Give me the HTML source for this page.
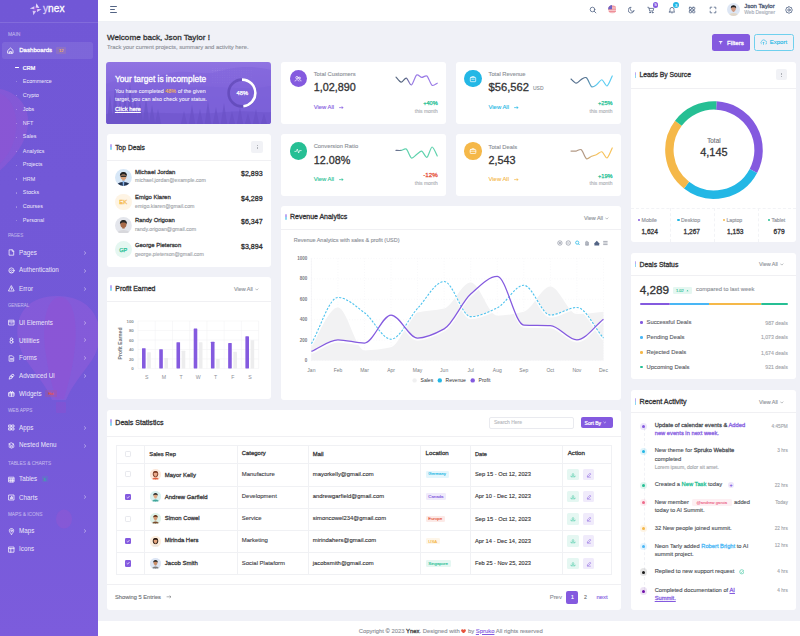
<!DOCTYPE html><html><head><meta charset="utf-8"><title>Ynex</title><style>
*{box-sizing:border-box;margin:0;padding:0}
html,body{width:800px;height:636px;overflow:hidden;background:#f0f1f7;font-family:"Liberation Sans",sans-serif;color:#333335}
body{position:relative}
.a{position:absolute}
.t{position:absolute;line-height:1;white-space:nowrap;-webkit-text-stroke:0.12px currentColor}
#sb{position:absolute;left:0;top:0;width:98px;height:636px;background:linear-gradient(180deg,#7157d6 0%,#7359d8 60%,#7c5cdc 100%);overflow:hidden}
.card{position:absolute;background:#fff;border-radius:3px}
b{font-weight:400;-webkit-text-stroke:0.26px currentColor}
</style></head><body>
<div id="sb">
<svg class="a" style="left:0;top:0" width="98" height="636" viewBox="0 0 98 636"><path d="M-10,88 C20,88 30,110 28,125 C26,145 12,160 -5,175 Z" fill="rgba(205,95,215,0.20)"/><path d="M-4,92 C12,95 18,115 16,130 C14,148 6,158 -4,168 Z" fill="rgba(190,70,200,0.10)"/><path d="M57,296 C100,296 108,335 92,360 C84,372 72,385 66,400 L52,400 C46,385 34,372 26,360 C10,335 14,296 57,296 Z" fill="rgba(200,100,225,0.20)"/><path d="M60,297 C76,298 78,330 74,355 C72,370 68,385 64,399 L56,399 C52,385 48,370 46,355 C42,330 44,298 60,297 Z" fill="rgba(175,65,200,0.16)"/><rect x="56" y="402" width="10" height="11" rx="1" fill="rgba(170,70,200,0.22)"/><ellipse cx="64" cy="519" rx="8" ry="9.5" fill="rgba(180,80,200,0.22)"/></svg>
<div class="a" style="left:0;top:21.6px;width:98px;height:0.5px;background:rgba(255,255,255,0.12)"></div>
</div>
<svg class="a" style="left:0;top:0" width="98" height="22" viewBox="0 0 98 22"><g><path d="M29.8,8.4 L34.4,6.3 L34.4,9.3 Z" fill="#dcd0f7"/><path d="M36.4,3.3 L39.4,7.9 L35.6,7.7 Z" fill="#e4dafa"/><path d="M41.6,9.3 L37,11.9 L37.1,8.9 Z" fill="#dcd0f7"/><path d="M33.4,15.2 L32.6,10.7 L36.2,11 Z" fill="#d6c8f5"/><circle cx="35.6" cy="9.3" r="2.2" fill="rgba(190,90,220,0.35)"/></g></svg>
<div class="t " style="left:43px;top:3.76px;font-size:10.2px;color:#fff;-webkit-text-stroke:0.3px currentColor;"><span style="color:#d9ccf6">y</span>nex</div>
<div class="t " style="left:7.9px;top:31.9px;font-size:5px;color:rgba(255,255,255,0.38);-webkit-text-stroke:0.22px currentColor;">MAIN</div>
<div class="t " style="left:7.9px;top:234.16px;font-size:4.54px;color:rgba(255,255,255,0.38);-webkit-text-stroke:0.2px currentColor;">PAGES</div>
<div class="t " style="left:7.9px;top:303.82px;font-size:4.44px;color:rgba(255,255,255,0.38);-webkit-text-stroke:0.2px currentColor;">GENERAL</div>
<div class="t " style="left:7.9px;top:409.05px;font-size:4.74px;color:rgba(255,255,255,0.38);-webkit-text-stroke:0.21px currentColor;">WEB APPS</div>
<div class="t " style="left:7.9px;top:461.52px;font-size:4.78px;color:rgba(255,255,255,0.38);-webkit-text-stroke:0.21px currentColor;">TABLES &amp; CHARTS</div>
<div class="t " style="left:7.9px;top:513.42px;font-size:4.79px;color:rgba(255,255,255,0.38);-webkit-text-stroke:0.21px currentColor;">MAPS &amp; ICONS</div>
<div class="a" style="left:2.4px;top:41.7px;width:90.4px;height:17.3px;background:rgba(255,255,255,0.09);border-radius:2.5px;"></div>
<svg class="a" style="left:7.4px;top:46.9px;" width="7" height="7" viewBox="0 0 7 7"><path d="M1,3.3 L3.5,1 L6,3.3 V6.2 H1 Z" fill="none" stroke="#fff" stroke-width="0.8" stroke-linejoin="round" stroke-linecap="round"/><path d="M2.6,6.2 V4.6 H4.4 V6.2" fill="none" stroke="#fff" stroke-width="0.8" stroke-linejoin="round" stroke-linecap="round"/></svg>
<div class="t " style="left:19.2px;top:46.77px;font-size:6.12px;color:#fff;-webkit-text-stroke:0.27px currentColor;">Dashboards</div>
<div class="a" style="left:56.3px;top:47px;width:9.7px;height:6.6px;background:rgba(245,184,73,0.13);border-radius:1px;"></div>
<div class="t " style="left:58.93px;top:48.66px;font-size:4px;color:#f5b849;">12</div>
<div class="t " style="left:22.8px;top:65.65px;font-size:5.45px;color:#fff;-webkit-text-stroke:0.24px currentColor;">CRM</div>
<div class="a" style="left:15px;top:67.25px;width:3.5px;height:0.7px;background:#fff;border-radius:0.3px;"></div>
<div class="t " style="left:22.8px;top:79.15px;font-size:5.45px;color:rgba(255,255,255,0.8);-webkit-text-stroke:0.05px currentColor;">Ecommerce</div>
<div class="a" style="left:15.8px;top:81.1px;width:1.4px;height:1.4px;background:rgba(255,255,255,0.35);border-radius:50%"></div>
<div class="t " style="left:22.8px;top:93.05px;font-size:5.45px;color:rgba(255,255,255,0.8);-webkit-text-stroke:0.05px currentColor;">Crypto</div>
<div class="a" style="left:15.8px;top:95px;width:1.4px;height:1.4px;background:rgba(255,255,255,0.35);border-radius:50%"></div>
<div class="t " style="left:22.8px;top:106.95px;font-size:5.45px;color:rgba(255,255,255,0.8);-webkit-text-stroke:0.05px currentColor;">Jobs</div>
<div class="a" style="left:15.8px;top:108.9px;width:1.4px;height:1.4px;background:rgba(255,255,255,0.35);border-radius:50%"></div>
<div class="t " style="left:22.8px;top:120.85px;font-size:5.45px;color:rgba(255,255,255,0.8);-webkit-text-stroke:0.05px currentColor;">NFT</div>
<div class="a" style="left:15.8px;top:122.8px;width:1.4px;height:1.4px;background:rgba(255,255,255,0.35);border-radius:50%"></div>
<div class="t " style="left:22.8px;top:134.15px;font-size:5.45px;color:rgba(255,255,255,0.8);-webkit-text-stroke:0.05px currentColor;">Sales</div>
<div class="a" style="left:15.8px;top:136.7px;width:1.4px;height:1.4px;background:rgba(255,255,255,0.35);border-radius:50%"></div>
<div class="t " style="left:22.8px;top:148.65px;font-size:5.45px;color:rgba(255,255,255,0.8);-webkit-text-stroke:0.05px currentColor;">Analytics</div>
<div class="a" style="left:15.8px;top:150.6px;width:1.4px;height:1.4px;background:rgba(255,255,255,0.35);border-radius:50%"></div>
<div class="t " style="left:22.8px;top:162.15px;font-size:5.45px;color:rgba(255,255,255,0.8);-webkit-text-stroke:0.05px currentColor;">Projects</div>
<div class="a" style="left:15.8px;top:164.5px;width:1.4px;height:1.4px;background:rgba(255,255,255,0.35);border-radius:50%"></div>
<div class="t " style="left:22.8px;top:177.25px;font-size:5.45px;color:rgba(255,255,255,0.8);-webkit-text-stroke:0.05px currentColor;">HRM</div>
<div class="a" style="left:15.8px;top:178.4px;width:1.4px;height:1.4px;background:rgba(255,255,255,0.35);border-radius:50%"></div>
<div class="t " style="left:22.8px;top:190.35px;font-size:5.45px;color:rgba(255,255,255,0.8);-webkit-text-stroke:0.05px currentColor;">Stocks</div>
<div class="a" style="left:15.8px;top:192.3px;width:1.4px;height:1.4px;background:rgba(255,255,255,0.35);border-radius:50%"></div>
<div class="t " style="left:22.8px;top:204.25px;font-size:5.45px;color:rgba(255,255,255,0.8);-webkit-text-stroke:0.05px currentColor;">Courses</div>
<div class="a" style="left:15.8px;top:206.2px;width:1.4px;height:1.4px;background:rgba(255,255,255,0.35);border-radius:50%"></div>
<div class="t " style="left:22.8px;top:218.15px;font-size:5.45px;color:rgba(255,255,255,0.8);-webkit-text-stroke:0.05px currentColor;">Personal</div>
<div class="a" style="left:15.8px;top:220.1px;width:1.4px;height:1.4px;background:rgba(255,255,255,0.35);border-radius:50%"></div>
<svg class="a" style="left:7.7px;top:249.2px;" width="7" height="7" viewBox="0 0 7 7"><path d="M1.5,0.8 H4.3 L5.7,2.2 V6.2 H1.5 Z" fill="none" stroke="rgba(255,255,255,0.85)" stroke-width="0.85" stroke-linejoin="round" stroke-linecap="round"/><path d="M4.2,0.8 V2.3 H5.7" fill="none" stroke="rgba(255,255,255,0.85)" stroke-width="0.85" stroke-linejoin="round" stroke-linecap="round"/></svg>
<div class="t " style="left:19.1px;top:249.68px;font-size:6.28px;color:rgba(255,255,255,0.84);-webkit-text-stroke:0.05px currentColor;">Pages</div>
<svg class="a" style="left:83.2px;top:250.7px;" width="4" height="4" viewBox="0 0 4 4"><path d="M1.4,0.7 L2.8,2 L1.4,3.3" fill="none" stroke="rgba(255,255,255,0.75)" stroke-width="0.6" stroke-linecap="round"/></svg>
<svg class="a" style="left:7.7px;top:267.1px;" width="7" height="7" viewBox="0 0 7 7"><circle cx="3.5" cy="3.5" r="2.6" fill="none" stroke="rgba(255,255,255,0.85)" stroke-width="0.85" stroke-linejoin="round" stroke-linecap="round"/><path d="M1.6,3.9 C2.4,2.5 4.6,2.5 5.4,3.9 M2.4,5.6 C2.7,4.4 4.3,4.4 4.6,5.6" fill="none" stroke="rgba(255,255,255,0.85)" stroke-width="0.85" stroke-linejoin="round" stroke-linecap="round"/></svg>
<div class="t " style="left:19.1px;top:267.18px;font-size:6.28px;color:rgba(255,255,255,0.84);-webkit-text-stroke:0.05px currentColor;">Authentication</div>
<svg class="a" style="left:83.2px;top:268.6px;" width="4" height="4" viewBox="0 0 4 4"><path d="M1.4,0.7 L2.8,2 L1.4,3.3" fill="none" stroke="rgba(255,255,255,0.75)" stroke-width="0.6" stroke-linecap="round"/></svg>
<svg class="a" style="left:7.7px;top:285px;" width="7" height="7" viewBox="0 0 7 7"><path d="M3.5,0.9 L6.2,6 H0.8 Z" fill="none" stroke="rgba(255,255,255,0.85)" stroke-width="0.85" stroke-linejoin="round" stroke-linecap="round"/><path d="M3.5,2.9 V4.3" fill="none" stroke="rgba(255,255,255,0.85)" stroke-width="0.85" stroke-linejoin="round" stroke-linecap="round"/></svg>
<div class="t " style="left:19.1px;top:285.68px;font-size:6.28px;color:rgba(255,255,255,0.84);-webkit-text-stroke:0.05px currentColor;">Error</div>
<svg class="a" style="left:83.2px;top:286.5px;" width="4" height="4" viewBox="0 0 4 4"><path d="M1.4,0.7 L2.8,2 L1.4,3.3" fill="none" stroke="rgba(255,255,255,0.75)" stroke-width="0.6" stroke-linecap="round"/></svg>
<svg class="a" style="left:7.7px;top:319px;" width="7" height="7" viewBox="0 0 7 7"><rect x="1" y="1.2" width="5" height="4.8" fill="none" stroke="rgba(255,255,255,0.85)" stroke-width="0.85" stroke-linejoin="round" stroke-linecap="round"/><path d="M1,2.8 H6 M2.8,4 H4.2" fill="none" stroke="rgba(255,255,255,0.85)" stroke-width="0.85" stroke-linejoin="round" stroke-linecap="round"/></svg>
<div class="t " style="left:19.1px;top:319.68px;font-size:6.28px;color:rgba(255,255,255,0.84);-webkit-text-stroke:0.05px currentColor;">Ui Elements</div>
<svg class="a" style="left:83.2px;top:320.5px;" width="4" height="4" viewBox="0 0 4 4"><path d="M1.4,0.7 L2.8,2 L1.4,3.3" fill="none" stroke="rgba(255,255,255,0.75)" stroke-width="0.6" stroke-linecap="round"/></svg>
<svg class="a" style="left:7.7px;top:336.8px;" width="7" height="7" viewBox="0 0 7 7"><circle cx="3.5" cy="2.2" r="1.3" fill="none" stroke="rgba(255,255,255,0.85)" stroke-width="0.85" stroke-linejoin="round" stroke-linecap="round"/><circle cx="3.5" cy="4.9" r="1.5" fill="none" stroke="rgba(255,255,255,0.85)" stroke-width="0.85" stroke-linejoin="round" stroke-linecap="round"/></svg>
<div class="t " style="left:19.1px;top:338.28px;font-size:6.28px;color:rgba(255,255,255,0.84);-webkit-text-stroke:0.05px currentColor;">Utilities</div>
<svg class="a" style="left:83.2px;top:338.3px;" width="4" height="4" viewBox="0 0 4 4"><path d="M1.4,0.7 L2.8,2 L1.4,3.3" fill="none" stroke="rgba(255,255,255,0.75)" stroke-width="0.6" stroke-linecap="round"/></svg>
<svg class="a" style="left:7.7px;top:354.6px;" width="7" height="7" viewBox="0 0 7 7"><path d="M1.5,0.8 H4.3 L5.7,2.2 V6.2 H1.5 Z" fill="none" stroke="rgba(255,255,255,0.85)" stroke-width="0.85" stroke-linejoin="round" stroke-linecap="round"/><path d="M2.5,3.6 H4.6 M2.5,4.8 H4.6" fill="none" stroke="rgba(255,255,255,0.85)" stroke-width="0.85" stroke-linejoin="round" stroke-linecap="round"/></svg>
<div class="t " style="left:19.1px;top:355.28px;font-size:6.28px;color:rgba(255,255,255,0.84);-webkit-text-stroke:0.05px currentColor;">Forms</div>
<svg class="a" style="left:83.2px;top:356.1px;" width="4" height="4" viewBox="0 0 4 4"><path d="M1.4,0.7 L2.8,2 L1.4,3.3" fill="none" stroke="rgba(255,255,255,0.75)" stroke-width="0.6" stroke-linecap="round"/></svg>
<svg class="a" style="left:7.7px;top:372.5px;" width="7" height="7" viewBox="0 0 7 7"><path d="M1.2,5.8 L2.2,3 L5,1 L6,2.2 L4,5 Z" fill="none" stroke="rgba(255,255,255,0.85)" stroke-width="0.85" stroke-linejoin="round" stroke-linecap="round"/><circle cx="3.6" cy="3.4" r="0.7" fill="none" stroke="rgba(255,255,255,0.85)" stroke-width="0.85" stroke-linejoin="round" stroke-linecap="round"/></svg>
<div class="t " style="left:19.1px;top:373.18px;font-size:6.28px;color:rgba(255,255,255,0.84);-webkit-text-stroke:0.05px currentColor;">Advanced Ui</div>
<svg class="a" style="left:83.2px;top:374px;" width="4" height="4" viewBox="0 0 4 4"><path d="M1.4,0.7 L2.8,2 L1.4,3.3" fill="none" stroke="rgba(255,255,255,0.75)" stroke-width="0.6" stroke-linecap="round"/></svg>
<svg class="a" style="left:7.7px;top:390.2px;" width="7" height="7" viewBox="0 0 7 7"><rect x="1" y="2.6" width="5" height="3.6" fill="none" stroke="rgba(255,255,255,0.85)" stroke-width="0.85" stroke-linejoin="round" stroke-linecap="round"/><path d="M1,3.9 H6 M3.5,2.6 V6.2 M2,2.6 C1.5,1.2 3,1 3.5,2.6 C4,1 5.5,1.2 5,2.6" fill="none" stroke="rgba(255,255,255,0.85)" stroke-width="0.85" stroke-linejoin="round" stroke-linecap="round"/></svg>
<div class="t " style="left:19.1px;top:390.68px;font-size:6.28px;color:rgba(255,255,255,0.84);-webkit-text-stroke:0.05px currentColor;">Widgets</div>
<svg class="a" style="left:7.7px;top:424.2px;" width="7" height="7" viewBox="0 0 7 7"><rect x="1" y="1" width="2" height="2" fill="none" stroke="rgba(255,255,255,0.85)" stroke-width="0.85" stroke-linejoin="round" stroke-linecap="round"/><rect x="4" y="1" width="2" height="2" fill="none" stroke="rgba(255,255,255,0.85)" stroke-width="0.85" stroke-linejoin="round" stroke-linecap="round"/><rect x="1" y="4" width="2" height="2" fill="none" stroke="rgba(255,255,255,0.85)" stroke-width="0.85" stroke-linejoin="round" stroke-linecap="round"/><rect x="4" y="4" width="2" height="2" fill="none" stroke="rgba(255,255,255,0.85)" stroke-width="0.85" stroke-linejoin="round" stroke-linecap="round"/></svg>
<div class="t " style="left:19.1px;top:424.68px;font-size:6.28px;color:rgba(255,255,255,0.84);-webkit-text-stroke:0.05px currentColor;">Apps</div>
<svg class="a" style="left:83.2px;top:425.7px;" width="4" height="4" viewBox="0 0 4 4"><path d="M1.4,0.7 L2.8,2 L1.4,3.3" fill="none" stroke="rgba(255,255,255,0.75)" stroke-width="0.6" stroke-linecap="round"/></svg>
<svg class="a" style="left:7.7px;top:442.1px;" width="7" height="7" viewBox="0 0 7 7"><path d="M3.5,0.9 L6,2.2 L3.5,3.5 L1,2.2 Z" fill="none" stroke="rgba(255,255,255,0.85)" stroke-width="0.85" stroke-linejoin="round" stroke-linecap="round"/><path d="M1,3.6 L3.5,4.9 L6,3.6 M1,4.9 L3.5,6.2 L6,4.9" fill="none" stroke="rgba(255,255,255,0.85)" stroke-width="0.85" stroke-linejoin="round" stroke-linecap="round"/></svg>
<div class="t " style="left:19.1px;top:442.18px;font-size:6.28px;color:rgba(255,255,255,0.84);-webkit-text-stroke:0.05px currentColor;">Nested Menu</div>
<svg class="a" style="left:83.2px;top:443.6px;" width="4" height="4" viewBox="0 0 4 4"><path d="M1.4,0.7 L2.8,2 L1.4,3.3" fill="none" stroke="rgba(255,255,255,0.75)" stroke-width="0.6" stroke-linecap="round"/></svg>
<svg class="a" style="left:7.7px;top:475.7px;" width="7" height="7" viewBox="0 0 7 7"><rect x="1" y="1.2" width="5" height="4.8" fill="none" stroke="rgba(255,255,255,0.85)" stroke-width="0.85" stroke-linejoin="round" stroke-linecap="round"/><path d="M1,2.8 H6 M1,4.4 H6 M2.8,2.8 V6 M4.4,2.8 V6" fill="none" stroke="rgba(255,255,255,0.85)" stroke-width="0.85" stroke-linejoin="round" stroke-linecap="round"/></svg>
<div class="t " style="left:19.1px;top:476.38px;font-size:6.28px;color:rgba(255,255,255,0.84);-webkit-text-stroke:0.05px currentColor;">Tables</div>
<svg class="a" style="left:7.7px;top:493.8px;" width="7" height="7" viewBox="0 0 7 7"><rect x="1" y="1" width="5" height="5" fill="none" stroke="rgba(255,255,255,0.85)" stroke-width="0.85" stroke-linejoin="round" stroke-linecap="round"/><path d="M2.5,4.8 V3.6 M3.5,4.8 V2.4 M4.5,4.8 V3" fill="none" stroke="rgba(255,255,255,0.85)" stroke-width="0.85" stroke-linejoin="round" stroke-linecap="round"/></svg>
<div class="t " style="left:19.1px;top:494.68px;font-size:6.28px;color:rgba(255,255,255,0.84);-webkit-text-stroke:0.05px currentColor;">Charts</div>
<svg class="a" style="left:83.2px;top:495.3px;" width="4" height="4" viewBox="0 0 4 4"><path d="M1.4,0.7 L2.8,2 L1.4,3.3" fill="none" stroke="rgba(255,255,255,0.75)" stroke-width="0.6" stroke-linecap="round"/></svg>
<svg class="a" style="left:7.7px;top:527.6px;" width="7" height="7" viewBox="0 0 7 7"><path d="M3.5,6.3 C2,4.6 1.3,3.6 1.3,2.7 A2.2,2.2 0 0 1 5.7,2.7 C5.7,3.6 5,4.6 3.5,6.3 Z" fill="none" stroke="rgba(255,255,255,0.85)" stroke-width="0.85" stroke-linejoin="round" stroke-linecap="round"/><circle cx="3.5" cy="2.8" r="0.8" fill="none" stroke="rgba(255,255,255,0.85)" stroke-width="0.85" stroke-linejoin="round" stroke-linecap="round"/></svg>
<div class="t " style="left:19.1px;top:528.28px;font-size:6.28px;color:rgba(255,255,255,0.84);-webkit-text-stroke:0.05px currentColor;">Maps</div>
<svg class="a" style="left:83.2px;top:529.1px;" width="4" height="4" viewBox="0 0 4 4"><path d="M1.4,0.7 L2.8,2 L1.4,3.3" fill="none" stroke="rgba(255,255,255,0.75)" stroke-width="0.6" stroke-linecap="round"/></svg>
<svg class="a" style="left:7.7px;top:545.5px;" width="7" height="7" viewBox="0 0 7 7"><rect x="1" y="1" width="5" height="5.2" fill="none" stroke="rgba(255,255,255,0.85)" stroke-width="0.85" stroke-linejoin="round" stroke-linecap="round"/><path d="M1,2.6 H6 M2.8,2.6 V6.2" fill="none" stroke="rgba(255,255,255,0.85)" stroke-width="0.85" stroke-linejoin="round" stroke-linecap="round"/></svg>
<div class="t " style="left:19.1px;top:546.18px;font-size:6.28px;color:rgba(255,255,255,0.84);-webkit-text-stroke:0.05px currentColor;">Icons</div>
<div class="a" style="left:45.4px;top:390.4px;width:11.3px;height:6.6px;background:rgba(230,83,60,0.16);border-radius:1px;"></div>
<div class="t " style="left:48.25px;top:393.18px;font-size:3.6px;color:#e6533c;">Hot</div>
<div class="a" style="left:41.6px;top:476px;width:6.4px;height:6.4px;background:rgba(38,191,148,0.16);border-radius:1px;"></div>
<div class="t " style="left:43.8px;top:478.78px;font-size:3.6px;color:#26bf94;">3</div>
<div class="a" style="left:98px;top:0px;width:702px;height:22px;background:#fff;border-radius:0px;border-bottom:0.5px solid #eef0f5;"></div>
<div class="a" style="left:109.5px;top:6.4px;width:7.2px;height:0.75px;background:#536485;border-radius:0.4px;"></div>
<div class="a" style="left:109.5px;top:9.3px;width:5px;height:0.75px;background:#536485;border-radius:0.4px;"></div>
<div class="a" style="left:109.5px;top:12.2px;width:7.2px;height:0.75px;background:#536485;border-radius:0.4px;"></div>
<svg class="a" style="left:588.6px;top:5.8px;" width="8" height="8" viewBox="0 0 8 8"><circle cx="3.5" cy="3.5" r="2.3" fill="none" stroke="#536485" stroke-width="0.8" stroke-linejoin="round" stroke-linecap="round"/><path d="M5.2,5.2 L6.9,6.9" fill="none" stroke="#536485" stroke-width="0.8" stroke-linejoin="round" stroke-linecap="round"/></svg>
<svg class="a" style="left:607.7px;top:5px;" width="8.6" height="8.6" viewBox="0 0 8.6 8.6"><defs><clipPath id="fl"><circle cx="4.3" cy="4.3" r="4.2"/></clipPath></defs><g clip-path="url(#fl)"><rect width="8.6" height="8.6" fill="#f7c4c8"/><rect y="1.2" width="8.6" height="1.1" fill="#ee8f98"/><rect y="3.6" width="8.6" height="1.1" fill="#ee8f98"/><rect y="6" width="8.6" height="1.1" fill="#ee8f98"/><rect width="4" height="4.3" fill="#6f63c4"/></g></svg>
<svg class="a" style="left:627.6px;top:5.8px;" width="8" height="8" viewBox="0 0 8 8"><path d="M5.9,4.9 A2.9,2.9 0 1 1 3.1,1.2 A2.3,2.3 0 0 0 5.9,4.9 Z" fill="none" stroke="#536485" stroke-width="0.8" stroke-linejoin="round" stroke-linecap="round"/></svg>
<svg class="a" style="left:647.2px;top:6px;" width="8" height="8" viewBox="0 0 8 8"><path d="M0.8,1.3 H1.8 L2.7,5 H6 L6.8,2.4 H2.1" fill="none" stroke="#536485" stroke-width="0.8" stroke-linejoin="round" stroke-linecap="round"/><circle cx="3" cy="6.4" r="0.5" fill="none" stroke="#536485" stroke-width="0.8" stroke-linejoin="round" stroke-linecap="round"/><circle cx="5.6" cy="6.4" r="0.5" fill="none" stroke="#536485" stroke-width="0.8" stroke-linejoin="round" stroke-linecap="round"/></svg>
<div class="a" style="left:652.6px;top:1.9px;width:5.8px;height:5.8px;border-radius:50%;background:#845adf;"></div>
<div class="t " style="left:654.42px;top:3.02px;font-size:3.9px;color:#fff;">5</div>
<svg class="a" style="left:667.8px;top:6px;" width="8" height="8" viewBox="0 0 8 8"><path d="M2,5.4 V3.4 A2,2 0 0 1 6,3.4 V5.4 L6.7,6 H1.3 Z" fill="none" stroke="#536485" stroke-width="0.8" stroke-linejoin="round" stroke-linecap="round"/><path d="M3.3,6.8 A0.8,0.8 0 0 0 4.7,6.8" fill="none" stroke="#536485" stroke-width="0.8" stroke-linejoin="round" stroke-linecap="round"/></svg>
<div class="a" style="left:673.1px;top:2.1px;width:5.8px;height:5.8px;border-radius:50%;background:#23b7e5;"></div>
<div class="t " style="left:674.92px;top:4.02px;font-size:3.9px;color:#fff;">3</div>
<svg class="a" style="left:688.4px;top:5.8px;" width="8" height="8" viewBox="0 0 8 8"><rect x="1.3" y="1.3" width="2.2" height="2.2" rx="0.5" fill="none" stroke="#536485" stroke-width="0.8" stroke-linejoin="round" stroke-linecap="round"/><rect x="4.6" y="1.3" width="2.2" height="2.2" rx="0.5" fill="none" stroke="#536485" stroke-width="0.8" stroke-linejoin="round" stroke-linecap="round"/><rect x="1.3" y="4.6" width="2.2" height="2.2" rx="0.5" fill="none" stroke="#536485" stroke-width="0.8" stroke-linejoin="round" stroke-linecap="round"/><rect x="4.6" y="4.6" width="2.2" height="2.2" rx="0.5" fill="none" stroke="#536485" stroke-width="0.8" stroke-linejoin="round" stroke-linecap="round"/></svg>
<svg class="a" style="left:708.5px;top:5.8px;" width="8" height="8" viewBox="0 0 8 8"><path d="M1.2,2.8 V1.2 H2.8 M5.2,1.2 H6.8 V2.8 M6.8,5.2 V6.8 H5.2 M2.8,6.8 H1.2 V5.2" fill="none" stroke="#536485" stroke-width="0.8" stroke-linejoin="round" stroke-linecap="round"/></svg>
<svg class="a" style="left:727.1px;top:3.1px;" width="13" height="13" viewBox="0 0 13 13"><defs><clipPath id="c7336_96"><circle cx="6.5" cy="6.5" r="6.5"/></clipPath></defs><g clip-path="url(#c7336_96)"><rect width="13" height="13" fill="#dde6f4"/><path d="M1.3,13 C1.62,8.97 11.38,8.97 11.7,13 Z" fill="#e2d8ca"/><rect x="5.59" y="6.83" width="1.82" height="2.08" fill="#cf9a80"/><ellipse cx="6.5" cy="5.59" rx="2.34" ry="2.73" fill="#cf9a80"/><path d="M3.9,5.59 C2.93,1.3 10.08,1.3 9.1,5.59 C8.58,3.9 4.42,3.9 3.9,5.59 Z" fill="#1f1f22"/></g></svg>
<div class="t " style="left:744.2px;top:3.01px;font-size:6.05px;color:#485470;-webkit-text-stroke:0.27px currentColor;">Json Taylor</div>
<div class="t " style="left:744.2px;top:11.45px;font-size:4.91px;color:#a6acb7;">Web Designer</div>
<svg class="a" style="left:785.3px;top:5.6px;" width="8" height="8" viewBox="0 0 8 8"><circle cx="4" cy="4" r="1.2" fill="none" stroke="#536485" stroke-width="0.8" stroke-linejoin="round" stroke-linecap="round"/><path d="M4,0.5 L5,1.4 L6.5,1.6 L6.7,3 L7.5,4 L6.7,5 L6.5,6.4 L5,6.6 L4,7.5 L3,6.6 L1.5,6.4 L1.3,5 L0.5,4 L1.3,3 L1.5,1.6 L3,1.4 Z" fill="none" stroke="#536485" stroke-width="0.8" stroke-linejoin="round" stroke-linecap="round"/></svg>
<div class="t " style="left:107px;top:33.85px;font-size:8.12px;color:#333335;-webkit-text-stroke:0.3px currentColor;">Welcome back, Json Taylor !</div>
<div class="t " style="left:107px;top:44.74px;font-size:5.82px;color:#8c9097;">Track your current projects, summary and activity here.</div>
<div class="a" style="left:712px;top:34.2px;width:38px;height:16.5px;background:#845adf;border-radius:2.5px;"></div>
<svg class="a" style="left:718.2px;top:40.2px;" width="5.4" height="5" viewBox="0 0 5.4 5"><path d="M0.5,0.9 H4.9 L3.1,2.8 V4.4 L2.3,4 V2.8 Z" fill="#f4f0fc"/></svg>
<div class="t " style="left:727px;top:40.42px;font-size:6.21px;color:#fff;-webkit-text-stroke:0.27px currentColor;">Filters</div>
<div class="a" style="left:754.2px;top:34.2px;width:39.6px;height:16.5px;background:transparent;border-radius:2.5px;border:0.8px solid #6fd0ee;"></div>
<svg class="a" style="left:760px;top:39.2px;" width="7" height="6.5" viewBox="0 0 7 6.5"><path d="M1.7,5 A1.5,1.5 0 0 1 1.6,2.4 A2.1,2.1 0 0 1 5.6,2.2 A1.4,1.4 0 0 1 5.4,5" fill="none" stroke="#23b7e5" stroke-width="0.6"/><path d="M3.5,5.8 V3.2 M2.6,4 L3.5,3.1 L4.4,4" fill="none" stroke="#23b7e5" stroke-width="0.6"/></svg>
<div class="t " style="left:769.7px;top:38.81px;font-size:6.05px;color:#23b7e5;">Export</div>
<div class="a" style="left:98px;top:620.8px;width:702px;height:15.2px;background:#fff;border-radius:0px;"></div>
<div class="t " style="left:358.75px;top:628.7px;font-size:5.89px;color:#8c9097;">Copyright © 2023 <b style="color:#333335">Ynex</b>. Designed with <svg width="5" height="4.6" viewBox="0 0 10 9" style="vertical-align:-0.4px"><path d="M5,9 L1,5 C-0.5,3.3 0.3,0.3 2.7,0.3 C3.9,0.3 4.6,1 5,1.7 C5.4,1 6.1,0.3 7.3,0.3 C9.7,0.3 10.5,3.3 9,5 Z" fill="#e6533c"/></svg> by <u style="color:#845adf">Spruko</u> All rights reserved</div>
<svg class="a" style="left:106.4px;top:61.8px" width="165" height="62.2" viewBox="0 0 165 62.2"><defs><linearGradient id="tg" x1="0" y1="0" x2="0" y2="1"><stop offset="0" stop-color="#9074e2"/><stop offset="0.45" stop-color="#8166dc"/><stop offset="1" stop-color="#735bd4"/></linearGradient><pattern id="dots" width="2.4" height="2.4" patternUnits="userSpaceOnUse"><circle cx="1.2" cy="1.2" r="0.35" fill="rgba(255,255,255,0.25)"/></pattern><clipPath id="tc"><rect width="165" height="62.2" rx="3"/></clipPath></defs><g clip-path="url(#tc)"><rect width="165" height="62.2" fill="url(#tg)"/><rect x="105" y="6" width="42" height="16" fill="url(#dots)"/><path d="M0,22 C20,14 40,18 60,12 C80,6 95,14 110,10 C125,6 140,2 165,8 V62.2 H0 Z" fill="#8064da" opacity="0.6"/><path d="M0,30 C30,24 50,30 80,26 C110,22 135,30 165,24 V62.2 H0 Z" fill="#7a60d7" opacity="0.5"/><path d="M0.5,63.0 L4.0,33.0 L7.5,63.0 Z M5.5,63.0 L9.0,25.0 L12.5,63.0 Z M10.5,63.0 L14.0,37.0 L17.5,63.0 Z M15.5,63.0 L19.0,29.0 L22.5,63.0 Z M20.5,63.0 L24.0,21.0 L27.5,63.0 Z M25.5,63.0 L29.0,33.0 L32.5,63.0 Z M30.5,63.0 L34.0,39.0 L37.5,63.0 Z M36.5,63.0 L40.0,35.0 L43.5,63.0 Z M42.5,63.0 L46.0,43.0 L49.5,63.0 Z M48.5,63.0 L52.0,47.0 L55.5,63.0 Z " fill="#6a52c6" opacity="0.7"/><path d="M74.5,63.0 L78.0,49.0 L81.5,63.0 Z M82.5,63.0 L86.0,43.0 L89.5,63.0 Z M90.5,63.0 L94.0,47.0 L97.5,63.0 Z M98.5,63.0 L102.0,39.0 L105.5,63.0 Z M106.5,63.0 L110.0,45.0 L113.5,63.0 Z M114.5,63.0 L118.0,41.0 L121.5,63.0 Z M122.5,63.0 L126.0,49.0 L129.5,63.0 Z M130.5,63.0 L134.0,45.0 L137.5,63.0 Z M138.5,63.0 L142.0,51.0 L145.5,63.0 Z M146.5,63.0 L150.0,47.0 L153.5,63.0 Z M154.5,63.0 L158.0,51.0 L161.5,63.0 Z " fill="#6850c4" opacity="0.65"/><path d="M0,52 C40,48 80,54 120,50 C140,48 155,51 165,50 V62.2 H0 Z" fill="#6a53c8" opacity="0.45"/></g></svg>
<div class="t " style="left:114.9px;top:75.24px;font-size:8.32px;color:#fff;-webkit-text-stroke:0.3px currentColor;">Your target is incomplete</div>
<div class="t " style="left:114.9px;top:89.16px;font-size:5.43px;color:rgba(255,255,255,0.85);">You have completed <span style="color:#f5b849">48%</span> of the given</div>
<div class="t " style="left:114.9px;top:97.38px;font-size:5.4px;color:rgba(255,255,255,0.85);">target, you can also check your status.</div>
<div class="t " style="left:114.9px;top:107.03px;font-size:5.85px;color:#fff;-webkit-text-stroke:0.26px currentColor;text-decoration:underline;">Click here</div>
<svg class="a" style="left:226.3px;top:76.6px;" width="32" height="32" viewBox="0 0 32 32"><circle cx="16" cy="16" r="13.4" fill="none" stroke="rgba(60,40,140,0.35)" stroke-width="2.6"/><circle cx="16" cy="16" r="13.4" fill="none" stroke="#fff" stroke-width="2.6" stroke-dasharray="40.41 84.19" transform="rotate(-90 16 16)"/></svg>
<div class="t " style="left:236.55px;top:91.48px;font-size:5.75px;color:#fff;-webkit-text-stroke:0.25px currentColor;">48%</div>
<div class="card" style="left:281.2px;top:62px;width:164.8px;height:61.7px;"></div>
<div class="a" style="left:289.55px;top:70.15px;width:17.3px;height:17.3px;border-radius:50%;background:#845adf"></div>
<svg class="a" style="left:294.2px;top:74.8px;" width="8" height="8" viewBox="0 0 8 8"><circle cx="3" cy="2.6" r="1.2" fill="none" stroke="#fff" stroke-width="0.7" stroke-linecap="round" stroke-linejoin="round"/><path d="M1,6 C1,4.3 5,4.3 5,6" fill="none" stroke="#fff" stroke-width="0.7" stroke-linecap="round" stroke-linejoin="round"/><circle cx="5.3" cy="3" r="0.9" fill="none" stroke="#fff" stroke-width="0.7" stroke-linecap="round" stroke-linejoin="round"/><path d="M5.6,4.6 C6.5,4.7 7,5.2 7,6" fill="none" stroke="#fff" stroke-width="0.7" stroke-linecap="round" stroke-linejoin="round"/></svg>
<div class="t " style="left:313.7px;top:72.05px;font-size:5.81px;color:#8c9097;">Total Customers</div>
<div class="t " style="left:313.7px;top:81.85px;font-size:10.8px;color:#333335;-webkit-text-stroke:0.3px currentColor;">1,02,890</div>
<div class="t " style="left:313.7px;top:104.5px;font-size:5.88px;color:#845adf;">View All</div>
<svg class="a" style="left:338.7px;top:105.5px;" width="5" height="3.2" viewBox="0 0 5 3.2"><path d="M0.5,1.6 H4 M2.8,0.5 L4,1.6 L2.8,2.7" fill="none" stroke="#845adf" stroke-width="0.7" stroke-linecap="round"/></svg>
<div class="t " style="left:423.2px;top:100.74px;font-size:5.65px;color:#26bf94;-webkit-text-stroke:0.25px currentColor;">+40%</div>
<div class="t " style="left:414.8px;top:108.61px;font-size:4.99px;color:#adb0b5;">this month</div>
<svg class="a" style="left:393.84px;top:73.22px;" width="45.24" height="14.31" viewBox="0 0 45.24 14.31"><defs><linearGradient id="sg28162" x1="0" y1="0" x2="1" y2="0"><stop offset="0" stop-color="#55657f"/><stop offset="0.22000000000000003" stop-color="#55657f"/><stop offset="0.4" stop-color="#9a7be6"/><stop offset="1" stop-color="#9a7be6"/></linearGradient></defs><path d="M2,4.06 C2.72,4.78 5.71,9.07 7.15,9.22 C8.6,9.36 10.87,4.71 12.31,5.09 C13.75,5.48 16.02,12.4 17.46,11.97 C18.91,11.53 21.18,3.06 22.62,2 C24.06,0.94 26.33,4.26 27.77,4.41 C29.22,4.55 31.48,1.92 32.93,3.03 C34.37,4.14 36.64,11.3 38.08,12.31 C39.53,13.32 42.52,10.54 43.24,10.25" fill="none" stroke="url(#sg28162)" stroke-width="1.2" stroke-linecap="round"/></svg>
<div class="card" style="left:456px;top:62px;width:164.8px;height:61.7px;"></div>
<div class="a" style="left:464.35px;top:70.15px;width:17.3px;height:17.3px;border-radius:50%;background:#23b7e5"></div>
<svg class="a" style="left:469px;top:74.8px;" width="8" height="8" viewBox="0 0 8 8"><rect x="1.3" y="2.4" width="5.4" height="4.3" rx="0.6" fill="none" stroke="#fff" stroke-width="0.7" stroke-linecap="round" stroke-linejoin="round"/><path d="M2.8,2.4 V1.6 H5.2 V2.4 M2.8,4.2 H5.2" fill="none" stroke="#fff" stroke-width="0.7" stroke-linecap="round" stroke-linejoin="round"/></svg>
<div class="t " style="left:488.5px;top:72.05px;font-size:5.81px;color:#8c9097;">Total Revenue</div>
<div class="t " style="left:488.5px;top:81.63px;font-size:11.2px;color:#333335;-webkit-text-stroke:0.3px currentColor;">$56,562</div>
<div class="t " style="left:533px;top:86.92px;font-size:4.97px;color:#8c9097;">USD</div>
<div class="t " style="left:488.5px;top:104.5px;font-size:5.88px;color:#23b7e5;">View All</div>
<svg class="a" style="left:513.5px;top:105.5px;" width="5" height="3.2" viewBox="0 0 5 3.2"><path d="M0.5,1.6 H4 M2.8,0.5 L4,1.6 L2.8,2.7" fill="none" stroke="#23b7e5" stroke-width="0.7" stroke-linecap="round"/></svg>
<div class="t " style="left:598px;top:100.74px;font-size:5.65px;color:#26bf94;-webkit-text-stroke:0.25px currentColor;">+25%</div>
<div class="t " style="left:589.6px;top:108.61px;font-size:4.99px;color:#adb0b5;">this month</div>
<svg class="a" style="left:568.84px;top:73.56px;" width="45.24" height="14.65" viewBox="0 0 45.24 14.65"><defs><linearGradient id="sg45662" x1="0" y1="0" x2="1" y2="0"><stop offset="0" stop-color="#55708e"/><stop offset="0.341" stop-color="#55708e"/><stop offset="0.62" stop-color="#5ccdf2"/><stop offset="1" stop-color="#5ccdf2"/></linearGradient></defs><path d="M2,5.09 C2.72,5.67 5.71,9.17 7.15,9.22 C8.6,9.26 10.87,6.21 12.31,5.44 C13.75,4.67 16.02,2.71 17.46,3.72 C18.91,4.73 21.18,11.69 22.62,12.65 C24.06,13.62 26.33,11.55 27.77,10.59 C29.22,9.63 31.48,5.59 32.93,5.78 C34.37,5.97 36.64,12.49 38.08,11.97 C39.53,11.44 42.52,3.4 43.24,2" fill="none" stroke="url(#sg45662)" stroke-width="1.2" stroke-linecap="round"/></svg>
<div class="card" style="left:281.2px;top:134.2px;width:164.8px;height:61.7px;"></div>
<div class="a" style="left:289.55px;top:142.35px;width:17.3px;height:17.3px;border-radius:50%;background:#26bf94"></div>
<svg class="a" style="left:294.2px;top:147px;" width="8" height="8" viewBox="0 0 8 8"><path d="M0.8,4.4 H2.4 L3.3,2 L4.6,6 L5.5,3.6 H7.2" fill="none" stroke="#fff" stroke-width="0.7" stroke-linecap="round" stroke-linejoin="round"/></svg>
<div class="t " style="left:313.7px;top:144.25px;font-size:5.81px;color:#8c9097;">Conversion Ratio</div>
<div class="t " style="left:313.7px;top:154.65px;font-size:10.8px;color:#333335;-webkit-text-stroke:0.3px currentColor;">12.08%</div>
<div class="t " style="left:313.7px;top:176.7px;font-size:5.88px;color:#26bf94;">View All</div>
<svg class="a" style="left:338.7px;top:177.7px;" width="5" height="3.2" viewBox="0 0 5 3.2"><path d="M0.5,1.6 H4 M2.8,0.5 L4,1.6 L2.8,2.7" fill="none" stroke="#26bf94" stroke-width="0.7" stroke-linecap="round"/></svg>
<div class="t " style="left:423.2px;top:172.2px;font-size:6.25px;color:#e6533c;-webkit-text-stroke:0.28px currentColor;">-12%</div>
<div class="t " style="left:414.8px;top:181.01px;font-size:4.99px;color:#adb0b5;">this month</div>
<svg class="a" style="left:393.84px;top:145.22px;" width="45.24" height="15" viewBox="0 0 45.24 15"><defs><linearGradient id="sg281134" x1="0" y1="0" x2="1" y2="0"><stop offset="0" stop-color="#6a7490"/><stop offset="0.0825" stop-color="#6a7490"/><stop offset="0.15" stop-color="#5fd2ad"/><stop offset="1" stop-color="#5fd2ad"/></linearGradient></defs><path d="M2,5.44 C2.72,5.44 5.71,5.63 7.15,5.44 C8.6,5.24 10.87,3 12.31,4.06 C13.75,5.12 16.02,12.23 17.46,13 C18.91,13.77 21.18,10.52 22.62,9.56 C24.06,8.6 26.33,5.74 27.77,6.12 C29.22,6.51 31.48,12.89 32.93,12.31 C34.37,11.73 36.64,2.19 38.08,2 C39.53,1.81 42.52,9.68 43.24,10.93" fill="none" stroke="url(#sg281134)" stroke-width="1.2" stroke-linecap="round"/></svg>
<div class="card" style="left:456px;top:134.2px;width:164.8px;height:61.7px;"></div>
<div class="a" style="left:464.35px;top:142.35px;width:17.3px;height:17.3px;border-radius:50%;background:#f5b849"></div>
<svg class="a" style="left:469px;top:147px;" width="8" height="8" viewBox="0 0 8 8"><rect x="1.2" y="2.5" width="5.6" height="4" rx="0.5" fill="none" stroke="#fff" stroke-width="0.7" stroke-linecap="round" stroke-linejoin="round"/><path d="M2.9,2.5 V1.6 H5.1 V2.5 M1.2,4.2 H6.8" fill="none" stroke="#fff" stroke-width="0.7" stroke-linecap="round" stroke-linejoin="round"/></svg>
<div class="t " style="left:488.5px;top:145.05px;font-size:5.81px;color:#8c9097;">Total Deals</div>
<div class="t " style="left:488.5px;top:154.65px;font-size:10.8px;color:#333335;-webkit-text-stroke:0.3px currentColor;">2,543</div>
<div class="t " style="left:488.5px;top:176.7px;font-size:5.88px;color:#f5b849;">View All</div>
<svg class="a" style="left:513.5px;top:177.7px;" width="5" height="3.2" viewBox="0 0 5 3.2"><path d="M0.5,1.6 H4 M2.8,0.5 L4,1.6 L2.8,2.7" fill="none" stroke="#f5b849" stroke-width="0.7" stroke-linecap="round"/></svg>
<div class="t " style="left:598px;top:173.54px;font-size:5.65px;color:#26bf94;-webkit-text-stroke:0.25px currentColor;">+19%</div>
<div class="t " style="left:589.6px;top:181.01px;font-size:4.99px;color:#adb0b5;">this month</div>
<svg class="a" style="left:568.84px;top:145.56px;" width="45.24" height="14.65" viewBox="0 0 45.24 14.65"><defs><linearGradient id="sg456134" x1="0" y1="0" x2="1" y2="0"><stop offset="0" stop-color="#b39a86"/><stop offset="0.33" stop-color="#b39a86"/><stop offset="0.6" stop-color="#f7c25a"/><stop offset="1" stop-color="#f7c25a"/></linearGradient></defs><path d="M2,5.09 C2.72,5.09 5.71,5.29 7.15,5.09 C8.6,4.9 10.87,2.66 12.31,3.72 C13.75,4.78 16.02,11.74 17.46,12.65 C18.91,13.57 21.18,10.82 22.62,10.25 C24.06,9.67 26.33,9.15 27.77,8.53 C29.22,7.9 31.48,5.3 32.93,5.78 C34.37,6.26 36.64,12.49 38.08,11.97 C39.53,11.44 42.52,3.4 43.24,2" fill="none" stroke="url(#sg456134)" stroke-width="1.2" stroke-linecap="round"/></svg>
<div class="card" style="left:630.8px;top:62px;width:165px;height:180.3px;"></div>
<div class="a" style="left:634.7px;top:71.5px;width:1.7px;height:6.4px;border-radius:1px;background:linear-gradient(180deg,#c2abf3 0%,#b9a9f2 42%,#8fd7f2 58%,#86d6f2 100%)"></div>
<div class="t " style="left:639.6px;top:71.61px;font-size:6.76px;color:#333335;-webkit-text-stroke:0.3px currentColor;">Leads By Source</div>
<div class="a" style="left:776.2px;top:69px;width:11.3px;height:11.4px;background:#f1f2f6;border-radius:2px;"></div>
<div class="a" style="left:781.45px;top:72.8px;width:0.8px;height:0.8px;background:#8c9097;border-radius:0.4px;"></div>
<div class="a" style="left:781.45px;top:74.3px;width:0.8px;height:0.8px;background:#8c9097;border-radius:0.4px;"></div>
<div class="a" style="left:781.45px;top:75.8px;width:0.8px;height:0.8px;background:#8c9097;border-radius:0.4px;"></div>
<div class="a" style="left:630.8px;top:87.5px;width:165px;height:0.55px;background:#f0f0f3;border-radius:0px;"></div>
<svg class="a" style="left:663.9px;top:99.7px;" width="100" height="100" viewBox="0 0 100 100"><path d="M52.33,5.46 A44.6,44.6 0 0 1 89.38,70.94" fill="none" stroke="#845adf" stroke-width="8.4"/><path d="M89.38,70.94 A44.6,44.6 0 0 1 22.54,85.15" fill="none" stroke="#23b7e5" stroke-width="8.4"/><path d="M22.54,85.15 A44.6,44.6 0 0 1 14.38,23.16" fill="none" stroke="#f5b849" stroke-width="8.4"/><path d="M14.38,23.16 A44.6,44.6 0 0 1 52.33,5.46" fill="none" stroke="#26bf94" stroke-width="8.4"/></svg>
<div class="t " style="left:707.15px;top:137.52px;font-size:6.39px;color:#6e7175;">Total</div>
<div class="t " style="left:700.2px;top:146.77px;font-size:10.95px;color:#333335;-webkit-text-stroke:0.3px currentColor;">4,145</div>
<div class="a" style="left:630.8px;top:208.4px;width:165px;height:0px;background:transparent;border-radius:0px;border-top:0.6px dashed #f2f3f6;"></div>
<div class="a" style="left:669.8px;top:208.4px;width:0px;height:33.5px;background:transparent;border-radius:0px;border-left:0.6px dashed #f2f3f6;"></div>
<div class="a" style="left:713.6px;top:208.4px;width:0px;height:33.5px;background:transparent;border-radius:0px;border-left:0.6px dashed #f2f3f6;"></div>
<div class="a" style="left:757.5px;top:208.4px;width:0px;height:33.5px;background:transparent;border-radius:0px;border-left:0.6px dashed #f2f3f6;"></div>
<div class="a" style="left:637.8px;top:218.8px;width:2.4px;height:2.4px;background:#845adf;border-radius:1.2px;border-radius:50%;"></div>
<div class="t " style="left:641.6px;top:217.79px;font-size:5.2px;color:#8c9097;">Mobile</div>
<div class="t " style="left:641.44px;top:229px;font-size:6.6px;color:#333335;-webkit-text-stroke:0.29px currentColor;">1,624</div>
<div class="a" style="left:677.3px;top:218.8px;width:2.4px;height:2.4px;background:#23b7e5;border-radius:1.2px;border-radius:50%;"></div>
<div class="t " style="left:681.1px;top:217.79px;font-size:5.2px;color:#8c9097;">Desktop</div>
<div class="t " style="left:683.54px;top:229px;font-size:6.6px;color:#333335;-webkit-text-stroke:0.29px currentColor;">1,267</div>
<div class="a" style="left:722.6px;top:218.8px;width:2.4px;height:2.4px;background:#f5b849;border-radius:1.2px;border-radius:50%;"></div>
<div class="t " style="left:726.4px;top:217.79px;font-size:5.2px;color:#8c9097;">Laptop</div>
<div class="t " style="left:727.04px;top:229px;font-size:6.6px;color:#333335;-webkit-text-stroke:0.29px currentColor;">1,153</div>
<div class="a" style="left:767.6px;top:218.8px;width:2.4px;height:2.4px;background:#26bf94;border-radius:1.2px;border-radius:50%;"></div>
<div class="t " style="left:771.4px;top:217.79px;font-size:5.2px;color:#8c9097;">Tablet</div>
<div class="t " style="left:773.59px;top:229px;font-size:6.6px;color:#333335;-webkit-text-stroke:0.29px currentColor;">679</div>
<div class="card" style="left:106.5px;top:134.2px;width:164.5px;height:132.8px;"></div>
<div class="a" style="left:110.4px;top:143.9px;width:1.7px;height:6.4px;border-radius:1px;background:linear-gradient(180deg,#c2abf3 0%,#b9a9f2 42%,#8fd7f2 58%,#86d6f2 100%)"></div>
<div class="t " style="left:115.3px;top:145.07px;font-size:6.66px;color:#333335;-webkit-text-stroke:0.29px currentColor;">Top Deals</div>
<div class="a" style="left:251.3px;top:141.3px;width:11.3px;height:11.6px;background:#f1f2f6;border-radius:2px;"></div>
<div class="a" style="left:256.55px;top:145.2px;width:0.8px;height:0.8px;background:#8c9097;border-radius:0.4px;"></div>
<div class="a" style="left:256.55px;top:146.7px;width:0.8px;height:0.8px;background:#8c9097;border-radius:0.4px;"></div>
<div class="a" style="left:256.55px;top:148.2px;width:0.8px;height:0.8px;background:#8c9097;border-radius:0.4px;"></div>
<div class="a" style="left:106.5px;top:159.6px;width:164.5px;height:0.55px;background:#f0f0f3;border-radius:0px;"></div>
<svg class="a" style="left:114.75px;top:168.65px;" width="16.9" height="16.9" viewBox="0 0 16.9 16.9"><defs><clipPath id="c1232_1771"><circle cx="8.45" cy="8.45" r="8.45"/></clipPath></defs><g clip-path="url(#c1232_1771)"><rect width="16.9" height="16.9" fill="#d7e7f7"/><path d="M1.69,16.9 C2.11,11.66 14.79,11.66 15.21,16.9 Z" fill="#243552"/><path d="M7.44,11.49 L9.46,11.49 L8.96,16.9 L7.94,16.9 Z" fill="#8ab4e8"/><rect x="7.27" y="8.87" width="2.37" height="2.7" fill="#d9a07a"/><ellipse cx="8.45" cy="7.27" rx="3.04" ry="3.55" fill="#d9a07a"/><path d="M5.07,7.27 C3.8,1.69 13.1,1.69 11.83,7.27 C11.15,5.07 5.75,5.07 5.07,7.27 Z" fill="#222"/><rect x="5.58" y="6.59" width="5.75" height="1.44" rx="0.42" fill="#333"/></g></svg>
<div class="t " style="left:135px;top:169.76px;font-size:5.96px;color:#333335;-webkit-text-stroke:0.26px currentColor;">Michael Jordan</div>
<div class="t " style="left:135px;top:178.45px;font-size:5.27px;color:#a3a6ab;">michael.jordan@example.com</div>
<div class="t " style="left:241px;top:169.75px;font-size:7.06px;color:#333335;-webkit-text-stroke:0.3px currentColor;">$2,893</div>
<div class="a" style="left:114.75px;top:193.55px;width:16.9px;height:16.9px;border-radius:50%;background:#fef4e4"></div>
<div class="t " style="left:119.31px;top:200.43px;font-size:5.83px;color:#f5b849;-webkit-text-stroke:0.26px currentColor;">EK</div>
<div class="t " style="left:135px;top:195.36px;font-size:5.96px;color:#333335;-webkit-text-stroke:0.26px currentColor;">Emigo Kiaren</div>
<div class="t " style="left:135px;top:203.75px;font-size:5.27px;color:#a3a6ab;">emigo.kiaren@gmail.com</div>
<div class="t " style="left:241px;top:195.35px;font-size:7.06px;color:#333335;-webkit-text-stroke:0.3px currentColor;">$4,289</div>
<svg class="a" style="left:114.75px;top:216.55px;" width="16.9" height="16.9" viewBox="0 0 16.9 16.9"><defs><clipPath id="c1232_2250"><circle cx="8.45" cy="8.45" r="8.45"/></clipPath></defs><g clip-path="url(#c1232_2250)"><rect width="16.9" height="16.9" fill="#e4e6ec"/><path d="M1.69,16.9 C2.11,11.66 14.79,11.66 15.21,16.9 Z" fill="#d8d8dc"/><rect x="7.27" y="8.87" width="2.37" height="2.7" fill="#a86b4a"/><ellipse cx="8.45" cy="7.27" rx="3.04" ry="3.55" fill="#a86b4a"/><path d="M5.07,7.27 C3.8,1.69 13.1,1.69 11.83,7.27 C11.15,5.07 5.75,5.07 5.07,7.27 Z" fill="#2a2a2a"/></g></svg>
<div class="t " style="left:135px;top:218.39px;font-size:5.91px;color:#333335;-webkit-text-stroke:0.26px currentColor;">Randy Origoan</div>
<div class="t " style="left:135px;top:226.75px;font-size:5.27px;color:#a3a6ab;">randy.origoan@gmail.com</div>
<div class="t " style="left:241px;top:218.15px;font-size:7.06px;color:#333335;-webkit-text-stroke:0.3px currentColor;">$6,347</div>
<div class="a" style="left:114.75px;top:241.35px;width:16.9px;height:16.9px;border-radius:50%;background:#e5f7f1"></div>
<div class="t " style="left:119.15px;top:248.16px;font-size:5.6px;color:#26bf94;-webkit-text-stroke:0.25px currentColor;">GP</div>
<div class="t " style="left:135px;top:242.99px;font-size:5.9px;color:#333335;-webkit-text-stroke:0.26px currentColor;">George Pieterson</div>
<div class="t " style="left:135px;top:251.75px;font-size:5.27px;color:#a3a6ab;">george.pieterson@gmail.com</div>
<div class="t " style="left:241px;top:242.75px;font-size:7.06px;color:#333335;-webkit-text-stroke:0.3px currentColor;">$3,894</div>
<div class="card" style="left:106.5px;top:277px;width:164.5px;height:122px;"></div>
<div class="a" style="left:110.4px;top:285.1px;width:1.7px;height:6.4px;border-radius:1px;background:linear-gradient(180deg,#c2abf3 0%,#b9a9f2 42%,#8fd7f2 58%,#86d6f2 100%)"></div>
<div class="t " style="left:115.3px;top:285.94px;font-size:6.89px;color:#333335;-webkit-text-stroke:0.3px currentColor;">Profit Earned</div>
<div class="t " style="left:233.9px;top:286.65px;font-size:5.45px;color:#8c9097;">View All</div>
<svg class="a" style="left:255.1px;top:287.6px;" width="3.6" height="3" viewBox="0 0 3.6 3"><path d="M0.6,0.9 L1.8,2.1 L3,0.9" fill="none" stroke="#8c9097" stroke-width="0.6" stroke-linecap="round"/></svg>
<div class="a" style="left:106.5px;top:300.7px;width:164.5px;height:0.55px;background:#f0f0f3;border-radius:0px;"></div>
<svg class="a" style="left:0;top:0" width="800" height="636" viewBox="0 0 800 636"><line x1="138" y1="321" x2="258.6" y2="321" stroke="#f1f1f3" stroke-width="0.5"/><text x="133.8" y="322.6" font-size="4.4" font-weight="700" fill="#8c9097" text-anchor="end">100</text><line x1="138" y1="330.48" x2="258.6" y2="330.48" stroke="#f1f1f3" stroke-width="0.5"/><text x="133.8" y="332.08" font-size="4.4" font-weight="700" fill="#8c9097" text-anchor="end">80</text><line x1="138" y1="339.96" x2="258.6" y2="339.96" stroke="#f1f1f3" stroke-width="0.5"/><text x="133.8" y="341.56" font-size="4.4" font-weight="700" fill="#8c9097" text-anchor="end">60</text><line x1="138" y1="349.44" x2="258.6" y2="349.44" stroke="#f1f1f3" stroke-width="0.5"/><text x="133.8" y="351.04" font-size="4.4" font-weight="700" fill="#8c9097" text-anchor="end">40</text><line x1="138" y1="358.92" x2="258.6" y2="358.92" stroke="#f1f1f3" stroke-width="0.5"/><text x="133.8" y="360.52" font-size="4.4" font-weight="700" fill="#8c9097" text-anchor="end">20</text><line x1="138" y1="368.4" x2="258.6" y2="368.4" stroke="#f1f1f3" stroke-width="0.5"/><text x="133.8" y="370" font-size="4.4" font-weight="700" fill="#8c9097" text-anchor="end">0</text><line x1="138" y1="321" x2="138" y2="368.4" stroke="#f1f1f3" stroke-width="0.5"/><line x1="155.23" y1="321" x2="155.23" y2="368.4" stroke="#f1f1f3" stroke-width="0.5"/><line x1="172.46" y1="321" x2="172.46" y2="368.4" stroke="#f1f1f3" stroke-width="0.5"/><line x1="189.69" y1="321" x2="189.69" y2="368.4" stroke="#f1f1f3" stroke-width="0.5"/><line x1="206.91" y1="321" x2="206.91" y2="368.4" stroke="#f1f1f3" stroke-width="0.5"/><line x1="224.14" y1="321" x2="224.14" y2="368.4" stroke="#f1f1f3" stroke-width="0.5"/><line x1="241.37" y1="321" x2="241.37" y2="368.4" stroke="#f1f1f3" stroke-width="0.5"/><line x1="258.6" y1="321" x2="258.6" y2="368.4" stroke="#f1f1f3" stroke-width="0.5"/><rect x="142.01" y="348.21" width="3.6" height="20.19" fill="#845adf" rx="0.4"/><rect x="147.21" y="352.28" width="3.6" height="16.12" fill="#ededee" rx="0.4"/><text x="146.61" y="379.3" font-size="5.2" fill="#8c9097" text-anchor="middle">S</text><rect x="159.24" y="349.25" width="3.6" height="19.15" fill="#845adf" rx="0.4"/><rect x="164.44" y="358.11" width="3.6" height="10.29" fill="#ededee" rx="0.4"/><text x="163.84" y="379.3" font-size="5.2" fill="#8c9097" text-anchor="middle">M</text><rect x="176.47" y="342.33" width="3.6" height="26.07" fill="#845adf" rx="0.4"/><rect x="181.67" y="350.86" width="3.6" height="17.54" fill="#ededee" rx="0.4"/><text x="181.07" y="379.3" font-size="5.2" fill="#8c9097" text-anchor="middle">T</text><rect x="193.7" y="328.58" width="3.6" height="39.82" fill="#845adf" rx="0.4"/><rect x="198.9" y="342.33" width="3.6" height="26.07" fill="#ededee" rx="0.4"/><text x="198.3" y="379.3" font-size="5.2" fill="#8c9097" text-anchor="middle">W</text><rect x="210.93" y="341.86" width="3.6" height="26.54" fill="#845adf" rx="0.4"/><rect x="216.13" y="358.92" width="3.6" height="9.48" fill="#ededee" rx="0.4"/><text x="215.53" y="379.3" font-size="5.2" fill="#8c9097" text-anchor="middle">T</text><rect x="228.16" y="343.04" width="3.6" height="25.36" fill="#845adf" rx="0.4"/><rect x="233.36" y="351.81" width="3.6" height="16.59" fill="#ededee" rx="0.4"/><text x="232.76" y="379.3" font-size="5.2" fill="#8c9097" text-anchor="middle">F</text><rect x="245.39" y="336.26" width="3.6" height="32.14" fill="#845adf" rx="0.4"/><rect x="250.59" y="340.15" width="3.6" height="28.25" fill="#ededee" rx="0.4"/><text x="249.99" y="379.3" font-size="5.2" fill="#8c9097" text-anchor="middle">S</text><text x="0" y="0" font-size="5.1" font-weight="700" fill="#6e7175" text-anchor="middle" transform="translate(122 343.5) rotate(-90)">Profit Earned</text></svg>
<div class="card" style="left:281.2px;top:206.3px;width:339.8px;height:193.4px;"></div>
<div class="a" style="left:285.1px;top:214px;width:1.7px;height:6.4px;border-radius:1px;background:linear-gradient(180deg,#c2abf3 0%,#b9a9f2 42%,#8fd7f2 58%,#86d6f2 100%)"></div>
<div class="t " style="left:290px;top:213.19px;font-size:6.98px;color:#333335;-webkit-text-stroke:0.3px currentColor;">Revenue Analytics</div>
<div class="t " style="left:584px;top:216.15px;font-size:5.45px;color:#8c9097;">View All</div>
<svg class="a" style="left:605.2px;top:216.7px;" width="3.6" height="3" viewBox="0 0 3.6 3"><path d="M0.6,0.9 L1.8,2.1 L3,0.9" fill="none" stroke="#8c9097" stroke-width="0.6" stroke-linecap="round"/></svg>
<div class="a" style="left:281.2px;top:229px;width:339.8px;height:0.55px;background:#f0f0f3;border-radius:0px;"></div>
<div class="t " style="left:293.7px;top:237.64px;font-size:5.46px;color:#8c9097;">Revenue Analytics with sales &amp; profit (USD)</div>
<svg class="a" style="left:0;top:0" width="800" height="636" viewBox="0 0 800 636"><line x1="311.4" y1="360.6" x2="603.45" y2="360.6" stroke="#eeeef2" stroke-width="0.5" stroke-dasharray="0.9 1.8"/><text x="307.2" y="362.2" font-size="4.5" font-weight="700" fill="#7a7d83" text-anchor="end">0</text><line x1="311.4" y1="340.16" x2="603.45" y2="340.16" stroke="#eeeef2" stroke-width="0.5" stroke-dasharray="0.9 1.8"/><text x="307.2" y="341.76" font-size="4.5" font-weight="700" fill="#7a7d83" text-anchor="end">200</text><line x1="311.4" y1="319.72" x2="603.45" y2="319.72" stroke="#eeeef2" stroke-width="0.5" stroke-dasharray="0.9 1.8"/><text x="307.2" y="321.32" font-size="4.5" font-weight="700" fill="#7a7d83" text-anchor="end">400</text><line x1="311.4" y1="299.28" x2="603.45" y2="299.28" stroke="#eeeef2" stroke-width="0.5" stroke-dasharray="0.9 1.8"/><text x="307.2" y="300.88" font-size="4.5" font-weight="700" fill="#7a7d83" text-anchor="end">600</text><line x1="311.4" y1="278.84" x2="603.45" y2="278.84" stroke="#eeeef2" stroke-width="0.5" stroke-dasharray="0.9 1.8"/><text x="307.2" y="280.44" font-size="4.5" font-weight="700" fill="#7a7d83" text-anchor="end">800</text><line x1="311.4" y1="258.4" x2="603.45" y2="258.4" stroke="#eeeef2" stroke-width="0.5" stroke-dasharray="0.9 1.8"/><text x="307.2" y="260" font-size="4.5" font-weight="700" fill="#7a7d83" text-anchor="end">1000</text><line x1="311.4" y1="258.4" x2="311.4" y2="360.6" stroke="#eeeef2" stroke-width="0.5" stroke-dasharray="0.9 1.8"/><line x1="337.95" y1="258.4" x2="337.95" y2="360.6" stroke="#eeeef2" stroke-width="0.5" stroke-dasharray="0.9 1.8"/><line x1="364.5" y1="258.4" x2="364.5" y2="360.6" stroke="#eeeef2" stroke-width="0.5" stroke-dasharray="0.9 1.8"/><line x1="391.05" y1="258.4" x2="391.05" y2="360.6" stroke="#eeeef2" stroke-width="0.5" stroke-dasharray="0.9 1.8"/><line x1="417.6" y1="258.4" x2="417.6" y2="360.6" stroke="#eeeef2" stroke-width="0.5" stroke-dasharray="0.9 1.8"/><line x1="444.15" y1="258.4" x2="444.15" y2="360.6" stroke="#eeeef2" stroke-width="0.5" stroke-dasharray="0.9 1.8"/><line x1="470.7" y1="258.4" x2="470.7" y2="360.6" stroke="#eeeef2" stroke-width="0.5" stroke-dasharray="0.9 1.8"/><line x1="497.25" y1="258.4" x2="497.25" y2="360.6" stroke="#eeeef2" stroke-width="0.5" stroke-dasharray="0.9 1.8"/><line x1="523.8" y1="258.4" x2="523.8" y2="360.6" stroke="#eeeef2" stroke-width="0.5" stroke-dasharray="0.9 1.8"/><line x1="550.35" y1="258.4" x2="550.35" y2="360.6" stroke="#eeeef2" stroke-width="0.5" stroke-dasharray="0.9 1.8"/><line x1="576.9" y1="258.4" x2="576.9" y2="360.6" stroke="#eeeef2" stroke-width="0.5" stroke-dasharray="0.9 1.8"/><line x1="603.45" y1="258.4" x2="603.45" y2="360.6" stroke="#eeeef2" stroke-width="0.5" stroke-dasharray="0.9 1.8"/><line x1="311.4" y1="258.4" x2="311.4" y2="360.6" stroke="#ececf0" stroke-width="0.5"/><path d="M311.4,345.27 C320.25,332.67 329.1,307.46 337.95,307.46 C346.8,307.46 355.65,350.38 364.5,350.38 C373.35,350.38 382.2,349.19 391.05,347.31 C399.9,345.44 408.75,315 417.6,312.57 C426.45,310.13 435.3,310.83 444.15,308.48 C453,306.12 461.85,282.42 470.7,282.42 C479.55,282.42 488.4,315.63 497.25,315.63 C506.1,315.63 514.95,313.99 523.8,311.75 C532.65,309.5 541.5,286.5 550.35,286.5 C559.2,286.5 568.05,314.1 576.9,314.1 C585.75,314.1 594.6,312.53 603.45,311.75 L603.45,360.6 L311.4,360.6 Z" fill="#f2f2f3"/><path d="M311.4,343.63 C320.25,328.24 329.1,297.44 337.95,297.44 C346.8,297.44 355.65,306.3 364.5,312.77 C373.35,319.24 382.2,339.24 391.05,339.24 C399.9,339.24 408.75,317.95 417.6,308.38 C426.45,298.8 435.3,281.5 444.15,281.5 C453,281.5 461.85,316.65 470.7,316.65 C479.55,316.65 488.4,312.08 497.25,307.86 C506.1,303.65 514.95,285.28 523.8,285.28 C532.65,285.28 541.5,315.02 550.35,315.02 C559.2,315.02 568.05,307.46 576.9,307.46 C585.75,307.46 594.6,327.9 603.45,338.12" fill="none" stroke="#fff" stroke-width="2.4" opacity="0.8" transform="translate(0 1.4)"/><path d="M311.4,351.4 C320.25,347.55 329.1,339.85 337.95,339.85 C346.8,339.85 355.65,343.02 364.5,343.02 C373.35,343.02 382.2,315.02 391.05,315.02 C399.9,315.02 408.75,338.12 417.6,338.12 C426.45,338.12 435.3,333.77 444.15,328.92 C453,324.07 461.85,301.86 470.7,294.07 C479.55,286.28 488.4,276.49 497.25,276.49 C506.1,276.49 514.95,324.7 523.8,325.03 C532.65,325.37 541.5,325.22 550.35,325.55 C559.2,325.87 568.05,339.85 576.9,339.85 C585.75,339.85 594.6,326.09 603.45,319.21" fill="none" stroke="#fff" stroke-width="2.4" opacity="0.8" transform="translate(0 1.4)"/><path d="M311.4,343.63 C320.25,328.24 329.1,297.44 337.95,297.44 C346.8,297.44 355.65,306.3 364.5,312.77 C373.35,319.24 382.2,339.24 391.05,339.24 C399.9,339.24 408.75,317.95 417.6,308.38 C426.45,298.8 435.3,281.5 444.15,281.5 C453,281.5 461.85,316.65 470.7,316.65 C479.55,316.65 488.4,312.08 497.25,307.86 C506.1,303.65 514.95,285.28 523.8,285.28 C532.65,285.28 541.5,315.02 550.35,315.02 C559.2,315.02 568.05,307.46 576.9,307.46 C585.75,307.46 594.6,327.9 603.45,338.12" fill="none" stroke="#4fc3ee" stroke-width="1.1" stroke-dasharray="2.2 1.5"/><path d="M311.4,351.4 C320.25,347.55 329.1,339.85 337.95,339.85 C346.8,339.85 355.65,343.02 364.5,343.02 C373.35,343.02 382.2,315.02 391.05,315.02 C399.9,315.02 408.75,338.12 417.6,338.12 C426.45,338.12 435.3,333.77 444.15,328.92 C453,324.07 461.85,301.86 470.7,294.07 C479.55,286.28 488.4,276.49 497.25,276.49 C506.1,276.49 514.95,324.7 523.8,325.03 C532.65,325.37 541.5,325.22 550.35,325.55 C559.2,325.87 568.05,339.85 576.9,339.85 C585.75,339.85 594.6,326.09 603.45,319.21" fill="none" stroke="#845adf" stroke-width="1.25"/><text x="311.4" y="372" font-size="5.0" fill="#7a7d83" text-anchor="middle">Jan</text><text x="337.95" y="372" font-size="5.0" fill="#7a7d83" text-anchor="middle">Feb</text><text x="364.5" y="372" font-size="5.0" fill="#7a7d83" text-anchor="middle">Mar</text><text x="391.05" y="372" font-size="5.0" fill="#7a7d83" text-anchor="middle">Apr</text><text x="417.6" y="372" font-size="5.0" fill="#7a7d83" text-anchor="middle">May</text><text x="444.15" y="372" font-size="5.0" fill="#7a7d83" text-anchor="middle">Jun</text><text x="470.7" y="372" font-size="5.0" fill="#7a7d83" text-anchor="middle">Jul</text><text x="497.25" y="372" font-size="5.0" fill="#7a7d83" text-anchor="middle">Aug</text><text x="523.8" y="372" font-size="5.0" fill="#7a7d83" text-anchor="middle">Sep</text><text x="550.35" y="372" font-size="5.0" fill="#7a7d83" text-anchor="middle">Oct</text><text x="576.9" y="372" font-size="5.0" fill="#7a7d83" text-anchor="middle">Nov</text><text x="603.45" y="372" font-size="5.0" fill="#7a7d83" text-anchor="middle">Dec</text><circle cx="414.6" cy="380.4" r="2.2" fill="#f0f0f1"/><text x="420.5" y="382" font-size="5.1" fill="#333335">Sales</text><circle cx="439.8" cy="380.4" r="2.2" fill="#23b7e5"/><text x="445.5" y="382" font-size="5.1" fill="#333335">Revenue</text><circle cx="472.7" cy="380.4" r="2.2" fill="#845adf"/><text x="478.5" y="382" font-size="5.1" fill="#333335">Profit</text><circle cx="559.9" cy="243" r="2.2" fill="none" stroke="#6e7687" stroke-width="0.55"/><path d="M558.9,242 L560.9,244 M560.9,242 L558.9,244" fill="none" stroke="#6e7687" stroke-width="0.55"/><circle cx="568.3" cy="243" r="2.2" fill="none" stroke="#6e7687" stroke-width="0.55"/><path d="M567.2,243 H569.4" fill="none" stroke="#6e7687" stroke-width="0.55"/><circle cx="577.2" cy="242.6" r="1.6" fill="none" stroke="#23b7e5" stroke-width="0.75"/><path d="M578.4,243.8 L579.6,245" stroke="#23b7e5" stroke-width="0.85"/><path d="M585.6,245 V241.6 M586.6,245 V240.8 M587.6,245 V241.2 M588.4,245 V242 M585.4,245.3 H588.6" fill="none" stroke="#6e7687" stroke-width="0.55"/><path d="M594.4,243.2 L596.8,240.8 L599.2,243.2 V245.4 H594.4 Z" fill="#536485"/><path d="M603.2,241.4 H607.6 M603.2,243 H607.6 M603.2,244.6 H607.6" stroke="#6e7687" stroke-width="0.6"/></svg>
<div class="card" style="left:630.8px;top:252.6px;width:165px;height:126.8px;"></div>
<div class="a" style="left:634.7px;top:260.6px;width:1.7px;height:6.4px;border-radius:1px;background:linear-gradient(180deg,#c2abf3 0%,#b9a9f2 42%,#8fd7f2 58%,#86d6f2 100%)"></div>
<div class="t " style="left:639.6px;top:261.68px;font-size:6.83px;color:#333335;-webkit-text-stroke:0.3px currentColor;">Deals Status</div>
<div class="t " style="left:758.9px;top:261.55px;font-size:5.45px;color:#8c9097;">View All</div>
<svg class="a" style="left:780.1px;top:262.9px;" width="3.6" height="3" viewBox="0 0 3.6 3"><path d="M0.6,0.9 L1.8,2.1 L3,0.9" fill="none" stroke="#8c9097" stroke-width="0.6" stroke-linecap="round"/></svg>
<div class="a" style="left:630.8px;top:275px;width:165px;height:0.55px;background:#f0f0f3;border-radius:0px;"></div>
<div class="t " style="left:639.7px;top:284.3px;font-size:11.79px;color:#333335;-webkit-text-stroke:0.3px currentColor;">4,289</div>
<div class="a" style="left:672.9px;top:287px;width:19.4px;height:6.8px;background:#e5f7f1;border-radius:1.2px;"></div>
<div class="t " style="left:676px;top:289.08px;font-size:3.96px;color:#26bf94;">1.02</div>
<svg class="a" style="left:686.2px;top:289.2px;" width="3" height="3" viewBox="0 0 3 3"><path d="M0.5,2.3 L1.5,0.9 L2.5,2.3 Z" fill="#26bf94"/></svg>
<div class="t " style="left:696px;top:287.43px;font-size:5.84px;color:#8c9097;">compared to last week</div>
<div class="a" style="left:639.7px;top:303px;width:30.5px;height:2px;background:#845adf;border-radius:1px;"></div>
<div class="a" style="left:670.2px;top:303px;width:38.8px;height:2px;background:#49b6f5;border-radius:0px;"></div>
<div class="a" style="left:709px;top:303px;width:52.4px;height:2px;background:#f5b849;border-radius:0px;"></div>
<div class="a" style="left:761.4px;top:303px;width:26.4px;height:2px;background:#26bf94;border-radius:1px;"></div>
<div class="a" style="left:640px;top:321.3px;width:2.6px;height:2.6px;background:#845adf;border-radius:1.3px;"></div>
<div class="t " style="left:646.5px;top:320.02px;font-size:5.85px;color:#5d6167;">Successful Deals</div>
<div class="t " style="left:765.25px;top:320.79px;font-size:5.2px;color:#a3a6ab;">987 deals</div>
<div class="a" style="left:640px;top:336px;width:2.6px;height:2.6px;background:#49b6f5;border-radius:1.3px;"></div>
<div class="t " style="left:646.5px;top:334.72px;font-size:5.85px;color:#5d6167;">Pending Deals</div>
<div class="t " style="left:760.91px;top:335.29px;font-size:5.2px;color:#a3a6ab;">1,073 deals</div>
<div class="a" style="left:640px;top:351.1px;width:2.6px;height:2.6px;background:#f5b849;border-radius:1.3px;"></div>
<div class="t " style="left:646.5px;top:349.82px;font-size:5.85px;color:#5d6167;">Rejected Deals</div>
<div class="t " style="left:760.91px;top:350.79px;font-size:5.2px;color:#a3a6ab;">1,674 deals</div>
<div class="a" style="left:640px;top:365.8px;width:2.6px;height:2.6px;background:#26bf94;border-radius:1.3px;"></div>
<div class="t " style="left:646.5px;top:364.92px;font-size:5.85px;color:#5d6167;">Upcoming Deals</div>
<div class="t " style="left:765.25px;top:364.89px;font-size:5.2px;color:#a3a6ab;">921 deals</div>
<div class="card" style="left:630.8px;top:390px;width:165px;height:220.4px;"></div>
<div class="a" style="left:634.7px;top:398.2px;width:1.7px;height:6.4px;border-radius:1px;background:linear-gradient(180deg,#c2abf3 0%,#b9a9f2 42%,#8fd7f2 58%,#86d6f2 100%)"></div>
<div class="t " style="left:639.6px;top:398.99px;font-size:7.17px;color:#333335;-webkit-text-stroke:0.3px currentColor;">Recent Activity</div>
<div class="t " style="left:758.9px;top:399.65px;font-size:5.45px;color:#8c9097;">View All</div>
<svg class="a" style="left:780.1px;top:400.6px;" width="3.6" height="3" viewBox="0 0 3.6 3"><path d="M0.6,0.9 L1.8,2.1 L3,0.9" fill="none" stroke="#8c9097" stroke-width="0.6" stroke-linecap="round"/></svg>
<div class="a" style="left:630.8px;top:412.3px;width:165px;height:0.55px;background:#f0f0f3;border-radius:0px;"></div>
<div class="a" style="left:643.6px;top:428px;width:0px;height:162px;background:transparent;border-radius:0px;border-left:0.5px dashed #f1f2f6;"></div>
<div class="a" style="left:640.2px;top:422.5px;width:7.2px;height:7.2px;border-radius:50%;background:rgba(132,90,223,0.15);"></div>
<div class="a" style="left:642.3px;top:424.6px;width:3px;height:3px;border-radius:50%;background:#845adf;"></div>
<div class="t " style="left:654.7px;top:423.08px;font-size:5.75px;color:#4b4f55;"><span style="-webkit-text-stroke:0.26px currentColor">Update of calendar events &amp; </span><span style="color:#845adf;-webkit-text-stroke:0.26px currentColor">Added</span></div>
<div class="t " style="left:654.7px;top:431.48px;font-size:5.75px;color:#4b4f55;"><span style="color:#845adf;-webkit-text-stroke:0.26px currentColor">new events in next week.</span></div>
<div class="t " style="left:771.6px;top:424.57px;font-size:4.7px;color:#a3a6ab;">4:45PM</div>
<div class="a" style="left:640.2px;top:447.7px;width:7.2px;height:7.2px;border-radius:50%;background:rgba(35,183,229,0.15);"></div>
<div class="a" style="left:642.3px;top:449.8px;width:3px;height:3px;border-radius:50%;background:#23b7e5;"></div>
<div class="t " style="left:654.7px;top:448.48px;font-size:5.75px;color:#4b4f55;">New theme for <b>Spruko Website</b></div>
<div class="t " style="left:654.7px;top:457.48px;font-size:5.75px;color:#4b4f55;">completed</div>
<div class="t " style="left:777.35px;top:448.67px;font-size:4.7px;color:#a3a6ab;">3 hrs</div>
<div class="a" style="left:640.2px;top:481.7px;width:7.2px;height:7.2px;border-radius:50%;background:rgba(38,191,148,0.15);"></div>
<div class="a" style="left:642.3px;top:483.8px;width:3px;height:3px;border-radius:50%;background:#26bf94;"></div>
<div class="t " style="left:654.7px;top:482.48px;font-size:5.75px;color:#4b4f55;">Created a <span style="color:#26bf94;-webkit-text-stroke:0.26px currentColor">New Task</span> today</div>
<div class="t " style="left:774.74px;top:484.07px;font-size:4.7px;color:#a3a6ab;">22 hrs</div>
<div class="a" style="left:640.2px;top:499.2px;width:7.2px;height:7.2px;border-radius:50%;background:rgba(238,106,138,0.12);"></div>
<div class="a" style="left:642.3px;top:501.3px;width:3px;height:3px;border-radius:50%;background:#ee6a8a;"></div>
<div class="t " style="left:654.7px;top:500.08px;font-size:5.75px;color:#4b4f55;">New member</div>
<div class="t " style="left:654.7px;top:508.48px;font-size:5.75px;color:#4b4f55;">today to AI Summit.</div>
<div class="t " style="left:775.26px;top:501.47px;font-size:4.7px;color:#a3a6ab;">Today</div>
<div class="a" style="left:640.2px;top:525px;width:7.2px;height:7.2px;border-radius:50%;background:rgba(245,184,73,0.15);"></div>
<div class="a" style="left:642.3px;top:527.1px;width:3px;height:3px;border-radius:50%;background:#f5b849;"></div>
<div class="t " style="left:654.7px;top:525.98px;font-size:5.75px;color:#4b4f55;">32 New people joined summit.</div>
<div class="t " style="left:774.74px;top:527.07px;font-size:4.7px;color:#a3a6ab;">22 hrs</div>
<div class="a" style="left:640.2px;top:542.5px;width:7.2px;height:7.2px;border-radius:50%;background:rgba(73,182,245,0.15);"></div>
<div class="a" style="left:642.3px;top:544.6px;width:3px;height:3px;border-radius:50%;background:#49b6f5;"></div>
<div class="t " style="left:654.7px;top:543.78px;font-size:5.75px;color:#4b4f55;">Neon Tarly added <span style="color:#49b6f5;-webkit-text-stroke:0.26px currentColor">Robert Bright</span> to AI</div>
<div class="t " style="left:654.7px;top:551.88px;font-size:5.75px;color:#4b4f55;">summit project.</div>
<div class="t " style="left:774.74px;top:544.07px;font-size:4.7px;color:#a3a6ab;">12 hrs</div>
<div class="a" style="left:640.2px;top:568.4px;width:7.2px;height:7.2px;border-radius:50%;background:rgba(0,0,0,0.1);"></div>
<div class="a" style="left:642.3px;top:570.5px;width:3px;height:3px;border-radius:50%;background:#1a1a1a;"></div>
<div class="t " style="left:654.7px;top:568.98px;font-size:5.75px;color:#4b4f55;">Replied to new support request</div>
<div class="t " style="left:777.35px;top:570.17px;font-size:4.7px;color:#a3a6ab;">4 hrs</div>
<div class="a" style="left:640.2px;top:587.4px;width:7.2px;height:7.2px;border-radius:50%;background:rgba(111,15,168,0.12);"></div>
<div class="a" style="left:642.3px;top:589.5px;width:3px;height:3px;border-radius:50%;background:#6f0fa8;"></div>
<div class="t " style="left:654.7px;top:588.08px;font-size:5.75px;color:#4b4f55;">Completed documentation of <u style="color:#845adf;-webkit-text-stroke:0.26px currentColor">AI</u></div>
<div class="t " style="left:654.7px;top:596.28px;font-size:5.75px;color:#4b4f55;"><u style="color:#845adf;-webkit-text-stroke:0.26px currentColor">Summit.</u></div>
<div class="t " style="left:777.35px;top:589.17px;font-size:4.7px;color:#a3a6ab;">4 hrs</div>
<div class="t " style="left:654.7px;top:465.34px;font-size:5.1px;color:#a3a6ab;">Lorem ipsum, dolor sit amet.</div>
<div class="a" style="left:728.1px;top:482.4px;width:5.8px;height:5.8px;background:rgba(132,90,223,0.15);border-radius:2.9px;"></div>
<div class="t " style="left:729.69px;top:484.28px;font-size:4.5px;color:#845adf;-webkit-text-stroke:0.2px currentColor;">+</div>
<div class="t " style="left:734px;top:500.08px;font-size:5.75px;color:#4b4f55;">added</div>
<div class="a" style="left:691.8px;top:499.4px;width:40.2px;height:6.6px;background:rgba(238,106,138,0.1);border-radius:1.5px;"></div>
<div class="t " style="left:696.58px;top:500.85px;font-size:4.2px;color:#ee6a8a;">@andrew garcia</div>
<svg class="a" style="left:738.6px;top:569.1px;" width="5.6" height="5.6" viewBox="0 0 5.6 5.6"><circle cx="2.8" cy="2.8" r="2.1" fill="none" stroke="#26bf94" stroke-width="0.55"/><path d="M1.8,2.9 L2.5,3.5 L3.8,2.2" fill="none" stroke="#26bf94" stroke-width="0.55"/></svg>
<div class="card" style="left:106.5px;top:410px;width:514.5px;height:200.4px;"></div>
<div class="a" style="left:110.4px;top:419.4px;width:1.7px;height:6.4px;border-radius:1px;background:linear-gradient(180deg,#c2abf3 0%,#b9a9f2 42%,#8fd7f2 58%,#86d6f2 100%)"></div>
<div class="t " style="left:115.3px;top:418.75px;font-size:7.06px;color:#333335;-webkit-text-stroke:0.3px currentColor;">Deals Statistics</div>
<div class="a" style="left:106.5px;top:436.2px;width:514.5px;height:0.55px;background:#f0f0f3;border-radius:0px;"></div>
<div class="a" style="left:488.5px;top:416.6px;width:85.5px;height:12.1px;background:#fff;border-radius:2px;border:0.55px solid #e9eaef;"></div>
<div class="t " style="left:494px;top:419.8px;font-size:5px;color:#b7b9be;">Search Here</div>
<div class="a" style="left:580.9px;top:416.6px;width:31.8px;height:11.6px;background:#845adf;border-radius:2px;"></div>
<div class="t " style="left:584.6px;top:420.88px;font-size:5.03px;color:#fff;-webkit-text-stroke:0.22px currentColor;">Sort By</div>
<svg class="a" style="left:603.3px;top:420.8px;" width="3.5" height="3" viewBox="0 0 3.5 3"><path d="M0.6,0.8 L1.75,1.9 L2.9,0.8" fill="none" stroke="#fff" stroke-width="0.55"/></svg>
<div class="a" style="left:115.5px;top:444.5px;width:496.8px;height:130.3px;background:transparent;border-radius:0px;border:0.55px solid #f0f1f4;"></div>
<div class="a" style="left:115.5px;top:463.3px;width:496.8px;height:0.55px;background:#f0f1f4;border-radius:0px;"></div>
<div class="a" style="left:115.5px;top:485.5px;width:496.8px;height:0.55px;background:#f0f1f4;border-radius:0px;"></div>
<div class="a" style="left:115.5px;top:507.7px;width:496.8px;height:0.55px;background:#f0f1f4;border-radius:0px;"></div>
<div class="a" style="left:115.5px;top:529.9px;width:496.8px;height:0.55px;background:#f0f1f4;border-radius:0px;"></div>
<div class="a" style="left:115.5px;top:552.1px;width:496.8px;height:0.55px;background:#f0f1f4;border-radius:0px;"></div>
<div class="a" style="left:144px;top:444.5px;width:0.55px;height:130.3px;background:#f0f1f4;border-radius:0px;"></div>
<div class="a" style="left:236.5px;top:444.5px;width:0.55px;height:130.3px;background:#f0f1f4;border-radius:0px;"></div>
<div class="a" style="left:307.5px;top:444.5px;width:0.55px;height:130.3px;background:#f0f1f4;border-radius:0px;"></div>
<div class="a" style="left:420.4px;top:444.5px;width:0.55px;height:130.3px;background:#f0f1f4;border-radius:0px;"></div>
<div class="a" style="left:469.5px;top:444.5px;width:0.55px;height:130.3px;background:#f0f1f4;border-radius:0px;"></div>
<div class="a" style="left:562.2px;top:444.5px;width:0.55px;height:130.3px;background:#f0f1f4;border-radius:0px;"></div>
<div class="t " style="left:149.3px;top:451.88px;font-size:5.75px;color:#333335;-webkit-text-stroke:0.25px currentColor;">Sales Rep</div>
<div class="t " style="left:241.8px;top:451.38px;font-size:5.93px;color:#333335;-webkit-text-stroke:0.26px currentColor;">Category</div>
<div class="t " style="left:312.8px;top:451.6px;font-size:5.89px;color:#333335;-webkit-text-stroke:0.26px currentColor;">Mail</div>
<div class="t " style="left:425.6px;top:450.27px;font-size:6.12px;color:#333335;-webkit-text-stroke:0.27px currentColor;">Location</div>
<div class="t " style="left:475px;top:451.51px;font-size:5.7px;color:#333335;-webkit-text-stroke:0.25px currentColor;">Date</div>
<div class="t " style="left:567.7px;top:450.22px;font-size:6.21px;color:#333335;-webkit-text-stroke:0.27px currentColor;">Action</div>
<div class="a" style="left:125.2px;top:451.1px;width:6.2px;height:6.2px;background:#fff;border-radius:1.2px;border:0.5px solid #e8e9ee;"></div>
<div class="a" style="left:125.2px;top:471.3px;width:6.2px;height:6.2px;background:#fff;border-radius:1.2px;border:0.5px solid #e8e9ee;"></div>
<svg class="a" style="left:149.8px;top:468.9px;" width="11" height="11" viewBox="0 0 11 11"><defs><clipPath id="c1553_4744"><circle cx="5.5" cy="5.5" r="5.5"/></clipPath></defs><g clip-path="url(#c1553_4744)"><rect width="11" height="11" fill="#fde8da"/><ellipse cx="5.5" cy="5.06" rx="2.75" ry="3.08" fill="#7a3a22"/><path d="M1.1,11 C1.38,7.59 9.62,7.59 9.9,11 Z" fill="#e0603e"/><rect x="4.73" y="5.78" width="1.54" height="1.76" fill="#eaa98a"/><ellipse cx="5.5" cy="4.73" rx="1.98" ry="2.31" fill="#eaa98a"/><path d="M3.3,4.73 C2.48,1.1 8.53,1.1 7.7,4.73 C7.26,3.3 3.74,3.3 3.3,4.73 Z" fill="#7a3a22"/></g><circle cx="5.5" cy="5.5" r="5.2" fill="none" stroke="#fde8da" stroke-width="0.6"/></svg>
<div class="t " style="left:164.8px;top:472.76px;font-size:5.96px;color:#333335;-webkit-text-stroke:0.26px currentColor;">Mayor Kelly</div>
<div class="t " style="left:241.8px;top:471.77px;font-size:5.95px;color:#3f4248;">Manufacture</div>
<div class="t " style="left:312.8px;top:471.81px;font-size:5.88px;color:#333335;">mayorkelly@gmail.com</div>
<div class="a" style="left:425.6px;top:471.1px;width:23.08px;height:6.6px;background:rgba(35,183,229,0.12);border-radius:1.2px;"></div>
<div class="t " style="left:428.3px;top:472.04px;font-size:4.3px;color:#23b7e5;">Germany</div>
<div class="t " style="left:475px;top:472.49px;font-size:5.72px;color:#333335;">Sep 15 - Oct 12, 2023</div>
<div class="a" style="left:567.4px;top:468.7px;width:11.6px;height:11.5px;background:rgba(38,191,148,0.12);border-radius:1.5px;"></div>
<svg class="a" style="left:570.2px;top:471.6px;" width="6" height="6" viewBox="0 0 6 6"><path d="M1,3.6 V4.8 H5 V3.6 M3,1 V3.6 M2,2.6 L3,3.6 L4,2.6" fill="none" stroke="#26bf94" stroke-width="0.55"/></svg>
<div class="a" style="left:582.6px;top:468.7px;width:11.8px;height:11.5px;background:rgba(132,90,223,0.12);border-radius:1.5px;"></div>
<svg class="a" style="left:585.5px;top:471.6px;" width="6" height="6" viewBox="0 0 6 6"><path d="M1.3,4.8 L1.6,3.6 L4,1.2 L4.9,2.1 L2.5,4.5 Z M1.2,5.2 H4.8" fill="none" stroke="#845adf" stroke-width="0.5"/></svg>
<div class="a" style="left:125.2px;top:493.5px;width:6.2px;height:6.2px;background:#845adf;border-radius:1.2px;"></div>
<svg class="a" style="left:125.2px;top:493.5px;" width="6.2" height="6.2" viewBox="0 0 6.2 6.2"><path d="M1.7,3.2 L2.7,4.1 L4.5,2.1" fill="none" stroke="#fff" stroke-width="0.7"/></svg>
<svg class="a" style="left:149.8px;top:491.1px;" width="11" height="11" viewBox="0 0 11 11"><defs><clipPath id="c1553_4966"><circle cx="5.5" cy="5.5" r="5.5"/></clipPath></defs><g clip-path="url(#c1553_4966)"><rect width="11" height="11" fill="#d9f1ef"/><path d="M1.1,11 C1.38,7.59 9.62,7.59 9.9,11 Z" fill="#3ea59a"/><rect x="4.73" y="5.78" width="1.54" height="1.76" fill="#e0a982"/><ellipse cx="5.5" cy="4.73" rx="1.98" ry="2.31" fill="#e0a982"/><path d="M3.3,4.73 C2.48,1.1 8.53,1.1 7.7,4.73 C7.26,3.3 3.74,3.3 3.3,4.73 Z" fill="#2a2a2a"/></g><circle cx="5.5" cy="5.5" r="5.2" fill="none" stroke="#d9f1ef" stroke-width="0.6"/></svg>
<div class="t " style="left:164.8px;top:494.05px;font-size:5.98px;color:#333335;-webkit-text-stroke:0.26px currentColor;">Andrew Garfield</div>
<div class="t " style="left:241.8px;top:493.97px;font-size:5.95px;color:#3f4248;">Development</div>
<div class="t " style="left:312.8px;top:494.01px;font-size:5.88px;color:#333335;">andrewgarfield@gmail.com</div>
<div class="a" style="left:425.6px;top:493.3px;width:20.46px;height:6.6px;background:rgba(132,90,223,0.12);border-radius:1.2px;"></div>
<div class="t " style="left:428.3px;top:495.04px;font-size:4.3px;color:#845adf;">Canada</div>
<div class="t " style="left:475px;top:494.49px;font-size:5.72px;color:#333335;">Apr 10 - Dec 12, 2023</div>
<div class="a" style="left:567.4px;top:490.9px;width:11.6px;height:11.5px;background:rgba(38,191,148,0.12);border-radius:1.5px;"></div>
<svg class="a" style="left:570.2px;top:493.8px;" width="6" height="6" viewBox="0 0 6 6"><path d="M1,3.6 V4.8 H5 V3.6 M3,1 V3.6 M2,2.6 L3,3.6 L4,2.6" fill="none" stroke="#26bf94" stroke-width="0.55"/></svg>
<div class="a" style="left:582.6px;top:490.9px;width:11.8px;height:11.5px;background:rgba(132,90,223,0.12);border-radius:1.5px;"></div>
<svg class="a" style="left:585.5px;top:493.8px;" width="6" height="6" viewBox="0 0 6 6"><path d="M1.3,4.8 L1.6,3.6 L4,1.2 L4.9,2.1 L2.5,4.5 Z M1.2,5.2 H4.8" fill="none" stroke="#845adf" stroke-width="0.5"/></svg>
<div class="a" style="left:125.2px;top:515.7px;width:6.2px;height:6.2px;background:#fff;border-radius:1.2px;border:0.5px solid #e8e9ee;"></div>
<svg class="a" style="left:149.8px;top:513.3px;" width="11" height="11" viewBox="0 0 11 11"><defs><clipPath id="c1553_5188"><circle cx="5.5" cy="5.5" r="5.5"/></clipPath></defs><g clip-path="url(#c1553_5188)"><rect width="11" height="11" fill="#dff3ea"/><path d="M1.1,11 C1.38,7.59 9.62,7.59 9.9,11 Z" fill="#7a4a2a"/><rect x="4.73" y="5.78" width="1.54" height="1.76" fill="#d59a74"/><ellipse cx="5.5" cy="4.73" rx="1.98" ry="2.31" fill="#d59a74"/><path d="M3.3,4.73 C2.48,1.1 8.53,1.1 7.7,4.73 C7.26,3.3 3.74,3.3 3.3,4.73 Z" fill="#5a2d12"/></g><circle cx="5.5" cy="5.5" r="5.2" fill="none" stroke="#dff3ea" stroke-width="0.6"/></svg>
<div class="t " style="left:164.8px;top:516.19px;font-size:5.91px;color:#333335;-webkit-text-stroke:0.26px currentColor;">Simon Cowel</div>
<div class="t " style="left:241.8px;top:516.17px;font-size:5.95px;color:#3f4248;">Service</div>
<div class="t " style="left:312.8px;top:516.21px;font-size:5.88px;color:#333335;">simoncowel234@gmail.com</div>
<div class="a" style="left:425.6px;top:515.5px;width:19.27px;height:6.6px;background:rgba(230,83,60,0.12);border-radius:1.2px;"></div>
<div class="t " style="left:428.3px;top:517.14px;font-size:4.3px;color:#e6533c;">Europe</div>
<div class="t " style="left:475px;top:517.09px;font-size:5.72px;color:#333335;">Sep 15 - Oct 12, 2023</div>
<div class="a" style="left:567.4px;top:513.1px;width:11.6px;height:11.5px;background:rgba(38,191,148,0.12);border-radius:1.5px;"></div>
<svg class="a" style="left:570.2px;top:516px;" width="6" height="6" viewBox="0 0 6 6"><path d="M1,3.6 V4.8 H5 V3.6 M3,1 V3.6 M2,2.6 L3,3.6 L4,2.6" fill="none" stroke="#26bf94" stroke-width="0.55"/></svg>
<div class="a" style="left:582.6px;top:513.1px;width:11.8px;height:11.5px;background:rgba(132,90,223,0.12);border-radius:1.5px;"></div>
<svg class="a" style="left:585.5px;top:516px;" width="6" height="6" viewBox="0 0 6 6"><path d="M1.3,4.8 L1.6,3.6 L4,1.2 L4.9,2.1 L2.5,4.5 Z M1.2,5.2 H4.8" fill="none" stroke="#845adf" stroke-width="0.5"/></svg>
<div class="a" style="left:125.2px;top:537.9px;width:6.2px;height:6.2px;background:#845adf;border-radius:1.2px;"></div>
<svg class="a" style="left:125.2px;top:537.9px;" width="6.2" height="6.2" viewBox="0 0 6.2 6.2"><path d="M1.7,3.2 L2.7,4.1 L4.5,2.1" fill="none" stroke="#fff" stroke-width="0.7"/></svg>
<svg class="a" style="left:149.8px;top:535.5px;" width="11" height="11" viewBox="0 0 11 11"><defs><clipPath id="c1553_5410"><circle cx="5.5" cy="5.5" r="5.5"/></clipPath></defs><g clip-path="url(#c1553_5410)"><rect width="11" height="11" fill="#fdeedd"/><ellipse cx="5.5" cy="5.06" rx="2.75" ry="3.08" fill="#2a1a12"/><path d="M1.1,11 C1.38,7.59 9.62,7.59 9.9,11 Z" fill="#e9e4e0"/><rect x="4.73" y="5.78" width="1.54" height="1.76" fill="#e3a47c"/><ellipse cx="5.5" cy="4.73" rx="1.98" ry="2.31" fill="#e3a47c"/><path d="M3.3,4.73 C2.48,1.1 8.53,1.1 7.7,4.73 C7.26,3.3 3.74,3.3 3.3,4.73 Z" fill="#2a1a12"/></g><circle cx="5.5" cy="5.5" r="5.2" fill="none" stroke="#fdeedd" stroke-width="0.6"/></svg>
<div class="t " style="left:164.8px;top:538.38px;font-size:5.93px;color:#333335;-webkit-text-stroke:0.26px currentColor;">Mirinda Hers</div>
<div class="t " style="left:241.8px;top:538.37px;font-size:5.95px;color:#3f4248;">Marketing</div>
<div class="t " style="left:312.8px;top:538.41px;font-size:5.88px;color:#333335;">mirindahers@gmail.com</div>
<div class="a" style="left:425.6px;top:537.7px;width:14.24px;height:6.6px;background:rgba(245,184,73,0.12);border-radius:1.2px;"></div>
<div class="t " style="left:428.3px;top:540.04px;font-size:4.3px;color:#f5b849;">USA</div>
<div class="t " style="left:475px;top:539.49px;font-size:5.72px;color:#333335;">Apr 14 - Dec 14, 2023</div>
<div class="a" style="left:567.4px;top:535.3px;width:11.6px;height:11.5px;background:rgba(38,191,148,0.12);border-radius:1.5px;"></div>
<svg class="a" style="left:570.2px;top:538.2px;" width="6" height="6" viewBox="0 0 6 6"><path d="M1,3.6 V4.8 H5 V3.6 M3,1 V3.6 M2,2.6 L3,3.6 L4,2.6" fill="none" stroke="#26bf94" stroke-width="0.55"/></svg>
<div class="a" style="left:582.6px;top:535.3px;width:11.8px;height:11.5px;background:rgba(132,90,223,0.12);border-radius:1.5px;"></div>
<svg class="a" style="left:585.5px;top:538.2px;" width="6" height="6" viewBox="0 0 6 6"><path d="M1.3,4.8 L1.6,3.6 L4,1.2 L4.9,2.1 L2.5,4.5 Z M1.2,5.2 H4.8" fill="none" stroke="#845adf" stroke-width="0.5"/></svg>
<div class="a" style="left:125.2px;top:560.35px;width:6.2px;height:6.2px;background:#845adf;border-radius:1.2px;"></div>
<svg class="a" style="left:125.2px;top:560.35px;" width="6.2" height="6.2" viewBox="0 0 6.2 6.2"><path d="M1.7,3.2 L2.7,4.1 L4.5,2.1" fill="none" stroke="#fff" stroke-width="0.7"/></svg>
<svg class="a" style="left:149.8px;top:557.95px;" width="11" height="11" viewBox="0 0 11 11"><defs><clipPath id="c1553_5634"><circle cx="5.5" cy="5.5" r="5.5"/></clipPath></defs><g clip-path="url(#c1553_5634)"><rect width="11" height="11" fill="#dde6f5"/><path d="M1.1,11 C1.38,7.59 9.62,7.59 9.9,11 Z" fill="#7a7a7a"/><rect x="4.73" y="5.78" width="1.54" height="1.76" fill="#c98d68"/><ellipse cx="5.5" cy="4.73" rx="1.98" ry="2.31" fill="#c98d68"/><path d="M3.3,4.73 C2.48,1.1 8.53,1.1 7.7,4.73 C7.26,3.3 3.74,3.3 3.3,4.73 Z" fill="#2a2a2a"/></g><circle cx="5.5" cy="5.5" r="5.2" fill="none" stroke="#dde6f5" stroke-width="0.6"/></svg>
<div class="t " style="left:164.8px;top:560.24px;font-size:6px;color:#333335;-webkit-text-stroke:0.26px currentColor;">Jacob Smith</div>
<div class="t " style="left:241.8px;top:560.82px;font-size:5.95px;color:#3f4248;">Social Plataform</div>
<div class="t " style="left:312.8px;top:560.86px;font-size:5.88px;color:#333335;">jacobsmith@gmail.com</div>
<div class="a" style="left:425.6px;top:560.15px;width:25px;height:6.6px;background:rgba(38,191,148,0.12);border-radius:1.2px;"></div>
<div class="t " style="left:428.3px;top:561.79px;font-size:4.3px;color:#26bf94;">Singapore</div>
<div class="t " style="left:475px;top:561.3px;font-size:5.63px;color:#333335;">Feb 25 - Nov 25, 2023</div>
<div class="a" style="left:567.4px;top:557.75px;width:11.6px;height:11.5px;background:rgba(38,191,148,0.12);border-radius:1.5px;"></div>
<svg class="a" style="left:570.2px;top:560.65px;" width="6" height="6" viewBox="0 0 6 6"><path d="M1,3.6 V4.8 H5 V3.6 M3,1 V3.6 M2,2.6 L3,3.6 L4,2.6" fill="none" stroke="#26bf94" stroke-width="0.55"/></svg>
<div class="a" style="left:582.6px;top:557.75px;width:11.8px;height:11.5px;background:rgba(132,90,223,0.12);border-radius:1.5px;"></div>
<svg class="a" style="left:585.5px;top:560.65px;" width="6" height="6" viewBox="0 0 6 6"><path d="M1.3,4.8 L1.6,3.6 L4,1.2 L4.9,2.1 L2.5,4.5 Z M1.2,5.2 H4.8" fill="none" stroke="#845adf" stroke-width="0.5"/></svg>
<div class="a" style="left:106.5px;top:583.8px;width:514.5px;height:0.55px;background:#f0f0f3;border-radius:0px;"></div>
<div class="t " style="left:115px;top:594.5px;font-size:5.71px;color:#6e7175;">Showing 5 Entries</div>
<svg class="a" style="left:165.5px;top:595.3px;" width="6" height="3.6" viewBox="0 0 6 3.6"><path d="M0.6,1.8 H5 M3.6,0.6 L5,1.8 L3.6,3" fill="none" stroke="#6e7175" stroke-width="0.55"/></svg>
<div class="t " style="left:549.7px;top:594.68px;font-size:5.93px;color:#8c9097;">Prev</div>
<div class="a" style="left:566.3px;top:590.9px;width:12.1px;height:13.1px;background:#845adf;border-radius:2px;"></div>
<div class="t " style="left:570.9px;top:595.09px;font-size:5.2px;color:#fff;">1</div>
<div class="t " style="left:584.05px;top:594.99px;font-size:5.2px;color:#6e7175;">2</div>
<div class="t " style="left:596.4px;top:593.92px;font-size:6.03px;color:#845adf;">next</div>
</body></html>
